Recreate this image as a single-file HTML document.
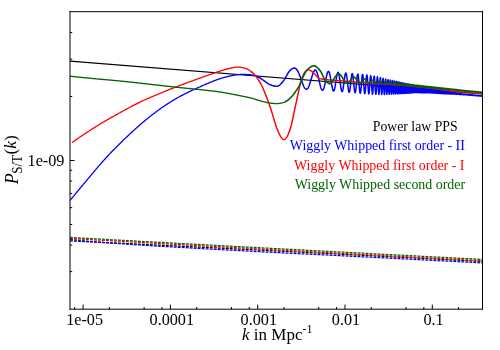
<!DOCTYPE html>
<html><head><meta charset="utf-8"><style>
html,body{margin:0;padding:0;background:#fff;}
body{width:500px;height:350px;overflow:hidden;font-family:"Liberation Serif",serif;}
svg{display:block}
text{font-family:"Liberation Serif",serif;}
</style></head><body>
<svg style="will-change:transform;filter:opacity(1)" width="500" height="350" viewBox="0 0 500 350">
<rect width="500" height="350" fill="#fff"/>
<defs><clipPath id="c"><rect x="70.00" y="11.70" width="412.50" height="297.50"/></clipPath></defs>
<g clip-path="url(#c)" fill="none" stroke-linejoin="round">
<path d="M70 61 L482.5 94" stroke="#000" stroke-width="1.25"/>
<path d="M70.00 200.40 L70.50 199.80 L71.00 199.20 L71.50 198.60 L72.00 198.00 L72.50 197.40 L73.00 196.80 L73.50 196.20 L74.00 195.60 L74.50 195.00 L75.00 194.40 L75.50 193.80 L76.00 193.20 L76.50 192.60 L77.00 192.00 L77.50 191.40 L78.00 190.80 L78.50 190.21 L79.00 189.61 L79.50 189.00 L80.00 188.40 L80.50 187.80 L81.00 187.20 L81.50 186.60 L82.00 186.00 L82.50 185.40 L83.00 184.80 L83.50 184.20 L84.00 183.60 L84.50 183.00 L85.00 182.40 L85.50 181.80 L86.00 181.20 L86.50 180.60 L87.00 180.00 L87.50 179.40 L88.00 178.80 L88.50 178.20 L89.00 177.60 L89.50 177.00 L90.00 176.40 L90.50 175.80 L91.00 175.20 L91.50 174.61 L92.00 174.01 L92.50 173.41 L93.00 172.82 L93.50 172.23 L94.00 171.63 L94.50 171.04 L95.00 170.45 L95.50 169.86 L96.00 169.28 L96.50 168.69 L97.00 168.11 L97.50 167.52 L98.00 166.94 L98.50 166.36 L99.00 165.78 L99.50 165.21 L100.00 164.63 L100.50 164.06 L101.00 163.49 L101.50 162.92 L102.00 162.35 L102.50 161.79 L103.00 161.23 L103.50 160.67 L104.00 160.11 L104.50 159.55 L105.00 159.00 L105.50 158.45 L106.00 157.90 L106.50 157.36 L107.00 156.81 L107.50 156.27 L108.00 155.74 L108.50 155.20 L109.00 154.67 L109.50 154.14 L110.00 153.61 L110.50 153.08 L111.00 152.56 L111.50 152.03 L112.00 151.51 L112.50 150.99 L113.00 150.48 L113.50 149.96 L114.00 149.45 L114.50 148.94 L115.00 148.43 L115.50 147.93 L116.00 147.42 L116.50 146.92 L117.00 146.42 L117.50 145.92 L118.00 145.42 L118.50 144.92 L119.00 144.43 L119.50 143.93 L120.00 143.44 L120.50 142.95 L121.00 142.46 L121.50 141.98 L122.00 141.49 L122.50 141.00 L123.00 140.52 L123.50 140.04 L124.00 139.56 L124.50 139.08 L125.00 138.60 L125.50 138.12 L126.00 137.65 L126.50 137.17 L127.00 136.70 L127.50 136.22 L128.00 135.75 L128.50 135.28 L129.00 134.81 L129.50 134.35 L130.00 133.88 L130.50 133.41 L131.00 132.95 L131.50 132.49 L132.00 132.03 L132.50 131.57 L133.00 131.11 L133.50 130.65 L134.00 130.20 L134.50 129.74 L135.00 129.29 L135.50 128.84 L136.00 128.39 L136.50 127.94 L137.00 127.50 L137.50 127.05 L138.00 126.61 L138.50 126.17 L139.00 125.73 L139.50 125.29 L140.00 124.86 L140.50 124.42 L141.00 123.99 L141.50 123.56 L142.00 123.13 L142.50 122.71 L143.00 122.28 L143.50 121.86 L144.00 121.44 L144.50 121.02 L145.00 120.60 L145.50 120.18 L146.00 119.77 L146.50 119.36 L147.00 118.95 L147.50 118.54 L148.00 118.14 L148.50 117.73 L149.00 117.33 L149.50 116.93 L150.00 116.54 L150.50 116.14 L151.00 115.75 L151.50 115.35 L152.00 114.96 L152.50 114.58 L153.00 114.19 L153.50 113.81 L154.00 113.43 L154.50 113.05 L155.00 112.67 L155.50 112.29 L156.00 111.92 L156.50 111.55 L157.00 111.18 L157.50 110.81 L158.00 110.44 L158.50 110.08 L159.00 109.72 L159.50 109.36 L160.00 109.00 L160.50 108.64 L161.00 108.29 L161.50 107.94 L162.00 107.59 L162.50 107.24 L163.00 106.89 L163.50 106.55 L164.00 106.21 L164.50 105.87 L165.00 105.53 L165.50 105.20 L166.00 104.86 L166.50 104.53 L167.00 104.20 L167.50 103.88 L168.00 103.55 L168.50 103.23 L169.00 102.91 L169.50 102.59 L170.00 102.27 L170.50 101.96 L171.00 101.64 L171.50 101.33 L172.00 101.03 L172.50 100.72 L173.00 100.42 L173.50 100.12 L174.00 99.82 L174.50 99.52 L175.00 99.22 L175.50 98.93 L176.00 98.64 L176.50 98.35 L177.00 98.07 L177.50 97.78 L178.00 97.50 L178.50 97.22 L179.00 96.95 L179.50 96.67 L180.00 96.40 L180.50 96.13 L181.00 95.86 L181.50 95.60 L182.00 95.33 L182.50 95.07 L183.00 94.81 L183.50 94.55 L184.00 94.30 L184.50 94.05 L185.00 93.79 L185.50 93.54 L186.00 93.29 L186.50 93.05 L187.00 92.80 L187.50 92.56 L188.00 92.32 L188.50 92.08 L189.00 91.84 L189.50 91.60 L190.00 91.36 L190.50 91.13 L191.00 90.89 L191.50 90.66 L192.00 90.42 L192.50 90.19 L193.00 89.96 L193.50 89.73 L194.00 89.50 L194.50 89.28 L195.00 89.05 L195.50 88.82 L196.00 88.60 L196.50 88.37 L197.00 88.14 L197.50 87.92 L198.00 87.70 L198.50 87.47 L199.00 87.25 L199.50 87.02 L200.00 86.80 L200.50 86.58 L201.00 86.35 L201.50 86.13 L202.00 85.91 L202.50 85.69 L203.00 85.46 L203.50 85.24 L204.00 85.02 L204.50 84.80 L205.00 84.58 L205.50 84.36 L206.00 84.15 L206.50 83.93 L207.00 83.71 L207.50 83.50 L208.00 83.29 L208.50 83.07 L209.00 82.86 L209.50 82.65 L210.00 82.45 L210.50 82.24 L211.00 82.03 L211.50 81.83 L212.00 81.63 L212.50 81.43 L213.00 81.23 L213.50 81.04 L214.00 80.84 L214.50 80.65 L215.00 80.46 L215.50 80.27 L216.00 80.09 L216.50 79.91 L217.00 79.73 L217.50 79.55 L218.00 79.37 L218.50 79.20 L219.00 79.03 L219.50 78.86 L220.00 78.70 L220.50 78.54 L221.00 78.38 L221.50 78.23 L222.00 78.07 L222.50 77.92 L223.00 77.78 L223.50 77.63 L224.00 77.49 L224.50 77.35 L225.00 77.22 L225.50 77.08 L226.00 76.95 L226.50 76.82 L227.00 76.70 L227.50 76.58 L228.00 76.46 L228.50 76.34 L229.00 76.22 L229.50 76.11 L230.00 76.00 L230.50 75.89 L231.00 75.79 L231.50 75.68 L232.00 75.58 L232.50 75.49 L233.00 75.39 L233.50 75.30 L234.00 75.22 L234.50 75.13 L235.00 75.05 L235.50 74.98 L236.00 74.91 L236.50 74.84 L237.00 74.78 L237.50 74.72 L238.00 74.66 L238.50 74.62 L239.00 74.57 L239.50 74.53 L240.00 74.50 L240.50 74.47 L241.00 74.45 L241.50 74.43 L242.00 74.42 L242.50 74.41 L243.00 74.41 L243.50 74.41 L244.00 74.42 L244.50 74.43 L245.00 74.45 L245.50 74.47 L246.00 74.49 L246.50 74.52 L247.00 74.55 L247.50 74.58 L248.00 74.62 L248.50 74.66 L249.00 74.70 L249.50 74.75 L250.00 74.80 L250.50 74.85 L251.00 74.91 L251.50 74.97 L252.00 75.04 L252.50 75.12 L253.00 75.20 L253.50 75.30 L254.00 75.41 L254.50 75.53 L255.00 75.67 L255.50 75.83 L256.00 76.00 L256.50 76.19 L257.00 76.40 L257.50 76.63 L258.00 76.87" stroke="#0000ff" stroke-width="1.3"/>
<path d="M257.00 76.40 L257.50 76.63 L258.00 76.87 L258.50 77.13 L259.00 77.41 L259.50 77.69 L260.00 77.99 L260.50 78.30 L261.00 78.63 L261.50 78.96 L262.00 79.30 L262.50 79.65 L263.00 80.00 L263.50 80.36 L264.00 80.72 L264.50 81.09 L265.00 81.45 L265.50 81.82 L266.00 82.17 L266.50 82.52 L267.00 82.86 L267.50 83.19 L268.00 83.50 L268.50 83.80 L269.00 84.08 L269.50 84.34 L270.00 84.59 L270.50 84.81 L271.00 85.03 L271.50 85.22 L272.00 85.40 L272.50 85.56 L273.00 85.70 L273.50 85.82 L274.00 85.93 L274.50 86.02 L275.00 86.10 L275.50 86.16 L276.00 86.20 L276.50 86.23 L277.00 86.22 L277.50 86.18 L278.00 86.07 L278.50 85.88 L279.00 85.60 L279.50 85.22 L280.00 84.76 L280.50 84.24 L281.00 83.70 L281.50 83.16 L282.00 82.60 L282.50 82.03 L283.00 81.44 L283.50 80.81 L284.00 80.13 L284.50 79.40 L285.00 78.60 L285.50 77.73 L286.00 76.82 L286.50 75.88 L287.00 74.95 L287.50 74.05 L288.00 73.20 L288.50 72.43 L289.00 71.73 L289.50 71.11 L290.00 70.55 L290.50 70.05 L291.00 69.60 L291.50 69.20 L292.00 68.86 L292.50 68.57 L293.00 68.33 L293.50 68.16 L294.00 68.05 L294.50 68.00 L294.60 68.08 L294.90 68.13 L295.20 68.23 L295.50 68.38 L295.80 68.58 L296.10 68.84 L296.40 69.14 L296.70 69.49 L297.00 69.89 L297.30 70.34 L297.60 70.84 L297.90 71.38 L298.20 71.97 L298.50 72.60 L298.80 73.27 L299.10 73.97 L299.40 74.71 L299.70 75.47 L300.00 76.26 L300.30 77.08 L300.60 77.90 L300.90 78.74 L301.20 79.59 L301.50 80.43 L301.80 81.27 L302.10 82.10 L302.40 82.92 L302.70 83.71 L303.00 84.47 L303.30 85.19 L303.60 85.88 L303.90 86.52 L304.20 87.10 L304.50 87.62 L304.80 88.09 L305.10 88.48 L305.40 88.79 L305.70 89.03 L306.00 89.19 L306.30 89.26 L306.60 89.24 L306.90 89.14 L307.20 88.94 L307.50 88.66 L307.80 88.29 L308.10 87.82 L308.40 87.28 L308.70 86.65 L309.00 85.95 L309.30 85.18 L309.60 84.34 L309.90 83.44 L310.20 82.50 L310.50 81.52 L310.80 80.51 L311.10 79.49 L311.40 78.45 L311.70 77.43 L312.00 76.42 L312.30 75.45 L312.60 74.51 L312.90 73.64 L313.20 72.83 L313.50 72.11 L313.80 71.48 L314.10 70.95 L314.40 70.54 L314.70 70.25 L315.00 70.09 L315.30 70.07 L315.60 70.18 L315.90 70.44 L316.20 70.84 L316.50 71.38 L316.80 72.06 L317.10 72.87 L317.40 73.79 L317.70 74.83 L318.00 75.95 L318.30 77.16 L318.60 78.42 L318.90 79.73 L319.20 81.05 L319.50 82.37 L319.80 83.66 L320.10 84.90 L320.40 86.06 L320.70 87.13 L321.00 88.08 L321.30 88.88 L321.60 89.53 L321.90 90.00 L322.20 90.28 L322.50 90.36 L322.80 90.24 L323.10 89.91 L323.40 89.38 L323.70 88.65 L324.00 87.74 L324.30 86.66 L324.60 85.44 L324.90 84.10 L325.20 82.67 L325.50 81.18 L325.80 79.68 L326.10 78.19 L326.40 76.76 L326.70 75.42 L327.00 74.22 L327.30 73.19 L327.60 72.36 L327.90 71.76 L328.20 71.41 L328.50 71.34 L328.80 71.55 L329.10 72.06 L329.40 72.84 L329.70 73.90 L330.00 75.18 L330.30 76.68 L330.60 78.33 L330.90 80.09 L331.20 81.90 L331.50 83.70 L331.80 85.42 L332.10 87.02 L332.40 88.42 L332.70 89.57 L333.00 90.43 L333.30 90.94 L333.60 91.10 L333.90 90.88 L334.20 90.28 L334.50 89.33 L334.80 88.05 L335.10 86.49 L335.40 84.71 L335.70 82.78 L336.00 80.80 L336.30 78.83 L336.60 76.99 L336.90 75.35 L337.20 74.00 L337.50 73.00 L337.80 72.43 L338.10 72.31 L338.40 72.67 L338.70 73.50 L339.00 74.77 L339.30 76.41 L339.60 78.37 L339.90 80.53 L340.20 82.75 L340.50 84.93 L340.80 86.97 L341.10 88.76 L341.40 90.19 L341.70 91.18 L342.00 91.65 L342.30 91.57 L342.60 90.93 L342.90 89.76 L343.20 88.13 L343.50 86.11 L343.80 83.83 L344.10 81.45 L344.40 79.10 L344.70 76.95 L345.00 75.15 L345.30 73.83 L345.60 73.11 L345.90 73.04 L346.20 73.65 L346.50 74.92 L346.80 76.76 L347.10 79.05 L347.40 81.63 L347.70 84.32 L348.00 86.89 L348.30 89.14 L348.60 90.90 L348.90 91.99 L349.20 92.31 L349.50 91.82 L349.80 90.55 L350.10 88.59 L350.40 86.11 L350.70 83.31 L351.00 80.45 L351.30 77.81 L351.60 75.64 L351.90 74.16 L352.20 73.55 L352.50 73.87 L352.80 75.14 L353.10 77.23 L353.40 79.96 L353.70 83.05 L354.00 86.18 L354.30 89.01 L354.60 91.21 L354.90 92.54 L355.20 92.80 L355.50 91.97 L355.80 90.10 L356.10 87.40 L356.40 84.20 L356.70 80.87 L357.00 77.84 L357.30 75.51 L357.60 74.20 L357.90 74.12 L358.20 75.30 L358.50 77.63 L358.80 80.80 L359.10 84.39 L359.40 87.90 L359.70 90.83 L360.00 92.73 L360.30 93.29 L360.60 92.40 L360.90 90.17 L361.20 86.93 L361.50 83.16 L361.80 79.48 L362.10 76.50 L362.40 74.73 L362.70 74.52 L363.00 75.93 L363.30 78.79 L363.60 82.58 L363.90 86.67 L364.20 90.29 L364.50 92.79 L364.80 93.66 L365.10 92.71 L365.40 90.10 L365.70 86.31 L366.00 82.13 L366.29 78.40 L366.59 75.86 L366.88 75.02 L367.17 76.06 L367.45 78.76 L367.74 82.59 L368.02 86.79 L368.30 90.53 L368.58 93.07 L368.85 93.92 L369.13 92.90 L369.40 90.25 L369.67 86.49 L369.94 82.38 L370.20 78.75 L370.47 76.33 L370.73 75.60 L370.99 76.71 L371.25 79.43 L371.51 83.23 L371.76 87.35 L372.02 90.98 L372.27 93.41 L372.52 94.14 L372.77 93.06 L373.01 90.38 L373.26 86.65 L373.50 82.62 L373.75 79.09 L373.99 76.77 L374.23 76.13 L374.46 77.30 L374.70 80.03 L374.94 83.80 L375.17 87.86 L375.40 91.39 L375.63 93.70 L375.86 94.35 L376.09 93.20 L376.31 90.51 L376.54 86.82 L376.76 82.88 L376.99 79.49 L377.21 77.31 L377.43 76.79 L377.65 78.02 L377.86 80.74 L378.08 84.43 L378.29 88.35 L378.51 91.71 L378.72 93.88 L378.93 94.42 L379.14 93.25 L379.35 90.62 L379.56 87.05 L379.76 83.29 L379.97 80.07 L380.17 78.03 L380.38 77.59 L380.58 78.83 L380.78 81.49 L380.98 85.05 L381.18 88.80 L381.38 92.00 L381.57 94.02 L381.77 94.48 L381.96 93.30 L382.16 90.72 L382.35 87.28 L382.54 83.67 L382.73 80.61 L382.92 78.71 L383.11 78.34 L383.30 79.58 L383.49 82.18 L383.68 85.62 L383.86 89.21 L384.04 92.25 L384.23 94.15 L384.41 94.53 L384.59 93.34 L384.77 90.83 L384.95 87.51 L385.13 84.03 L385.31 81.11 L385.49 79.32 L385.67 79.01 L385.84 80.24 L386.02 82.76 L386.19 86.06 L386.36 89.49 L386.54 92.36 L386.71 94.12 L386.88 94.43 L387.05 93.23 L387.22 90.78 L387.39 87.57 L387.56 84.25 L387.72 81.48 L387.89 79.81 L388.06 79.56 L388.22 80.78 L388.39 83.22 L388.55 86.40 L388.71 89.67 L388.87 92.40 L389.04 94.04 L389.20 94.29 L389.36 93.10 L389.52 90.73 L389.68 87.64 L389.83 84.47 L389.99 81.84 L390.15 80.27 L390.30 80.08 L390.46 81.29 L390.62 83.65 L390.77 86.70 L390.92 89.83 L391.08 92.42 L391.23 93.96 L391.38 94.16 L391.53 92.98 L391.68 90.68 L391.83 87.71 L391.98 84.68 L392.13 82.18 L392.28 80.71 L392.43 80.56 L392.57 81.76 L392.72 84.05 L392.87 86.99 L393.01 89.98 L393.16 92.44 L393.30 93.88 L393.44 94.04 L393.59 92.88 L393.73 90.64 L393.87 87.79 L394.01 84.88 L394.16 82.51 L394.30 81.13 L394.44 81.03 L394.58 82.20 L394.71 84.43 L394.85 87.25 L394.99 90.11 L395.13 92.45 L395.27 93.81 L395.40 93.92 L395.54 92.78 L395.67 90.61 L395.81 87.87 L395.94 85.09 L396.08 82.83 L396.21 81.54 L396.34 81.46 L396.48 82.62 L396.61 84.77 L396.74 87.49 L396.87 90.23 L397.00 92.46 L397.13 93.73 L397.26 93.81 L397.39 92.68 L397.52 90.59 L397.65 87.95 L397.78 85.28 L397.91 83.13 L398.03 81.92 L398.16 81.88 L398.29 83.02 L398.41 85.10 L398.54 87.72 L398.66 90.34 L398.79 92.46 L398.91 93.66 L399.04 93.70 L399.16 92.60 L399.28 90.57 L399.41 88.03 L399.53 85.48 L399.65 83.43 L399.77 82.29 L399.89 82.28 L400.02 83.39 L400.14 85.41 L400.26 87.93 L400.38 90.44 L400.49 92.46 L400.61 93.58 L400.73 93.60 L400.85 92.52 L400.97 90.56 L401.09 88.11 L401.20 85.67 L401.32 83.72 L401.44 82.65 L401.55 82.66 L401.67 83.75 L401.78 85.70 L401.90 88.12 L402.01 90.53 L402.13 92.45 L402.24 93.51 L402.35 93.51 L402.47 92.45 L402.58 90.55 L402.69 88.19 L402.81 85.85 L402.92 84.00 L403.03 82.99 L403.14 83.02 L403.25 84.09 L403.36 85.98 L403.47 88.31 L403.58 90.61 L403.69 92.45 L403.80 93.44 L403.91 93.42 L404.02 92.38 L404.13 90.54 L404.23 88.28 L404.34 86.04 L404.45 84.27 L404.56 83.32 L404.66 83.37 L404.77 84.41 L404.88 86.24 L404.98 88.48 L405.09 90.69 L405.19 92.43 L405.30 93.37 L405.40 93.32 L405.51 92.30 L405.61 90.53 L405.72 88.35 L405.82 86.21 L405.92 84.53 L406.03 83.64 L406.13 83.71 L406.23 84.72 L406.33 86.48 L406.44 88.62 L406.54 90.72 L406.64 92.37 L406.74 93.25 L406.84 93.18 L406.94 92.20 L407.04 90.49 L407.14 88.41 L407.24 86.38 L407.34 84.78 L407.44 83.95 L407.54 84.04 L407.64 85.02 L407.74 86.70 L407.83 88.75 L407.93 90.75 L408.03 92.32 L408.13 93.14 L408.23 93.06 L408.32 92.10 L408.42 90.47 L408.52 88.48 L408.61 86.54 L408.71 85.03 L408.80 84.25 L408.90 84.35 L408.99 85.30 L409.09 86.92 L409.18 88.87 L409.28 90.78 L409.37 92.26 L409.47 93.03 L409.56 92.93 L409.65 92.01 L409.75 90.44 L409.84 88.55 L409.93 86.70 L410.03 85.27 L410.12 84.55 L410.21 84.65 L410.30 85.58 L410.40 87.12 L410.49 88.99 L410.58 90.80 L410.67 92.20 L410.76 92.92 L410.85 92.82 L410.94 91.92 L411.03 90.42 L411.12 88.61 L411.21 86.86 L411.30 85.51 L411.39 84.83 L411.48 84.95 L411.57 85.84 L411.66 87.32 L411.75 89.10 L411.84 90.82 L411.92 92.14 L412.01 92.81 L412.10 92.70 L412.19 91.84 L412.27 90.41 L412.36 88.68 L412.45 87.02 L412.53 85.74 L412.62 85.10 L412.71 85.23 L412.79 86.09 L412.88 87.50 L412.97 89.20 L413.05 90.83 L413.14 92.08 L413.22 92.71 L413.31 92.60 L413.39 91.77 L413.48 90.39 L413.56 88.75 L413.65 87.17 L413.73 85.97 L413.81 85.37 L413.90 85.50 L413.98 86.33 L414.06 87.68 L414.15 89.29 L414.23 90.84 L414.31 92.03 L414.40 92.61 L414.48 92.49 L414.56 91.69 L414.64 90.38 L414.72 88.82 L414.81 87.32 L414.89 86.19 L414.97 85.63 L415.05 85.77 L415.13 86.56 L415.21 87.86 L415.29 89.40 L415.37 90.88 L415.45 92.01 L415.53 92.57 L415.61 92.45 L415.69 91.68 L415.77 90.42 L415.85 88.92 L415.93 87.48 L416.01 86.38 L416.09 85.85 L416.17 85.99 L416.25 86.77 L416.33 88.03 L416.40 89.53 L416.48 90.97 L416.56 92.06 L416.64 92.59 L416.72 92.46 L416.79 91.71 L416.87 90.48 L416.95 89.02 L417.02 87.63 L417.10 86.57 L417.18 86.07 L417.25 86.21 L417.33 86.97 L417.41 88.20 L417.48 89.66 L417.56 91.05 L417.64 92.10 L417.71 92.61 L417.79 92.48 L417.86 91.74 L417.94 90.54 L418.01 89.12 L418.09 87.77 L418.16 86.76 L418.24 86.27 L418.31 86.42 L418.39 87.17 L418.46 88.37 L418.53 89.78 L418.61 91.13 L418.68 92.14 L418.76 92.62 L418.83 92.49 L418.90 91.76 L418.98 90.60 L419.05 89.22 L419.12 87.92 L419.19 86.94 L419.27 86.48 L419.34 86.63 L419.41 87.36 L419.48 88.53 L419.56 89.90 L419.63 91.20 L419.70 92.18 L419.77 92.64 L419.84 92.50 L419.91 91.79 L419.99 90.66 L420.06 89.32 L420.13 88.06 L420.20 87.11 L420.27 86.67 L420.34 86.83 L420.41 87.55 L420.48 88.68 L420.55 90.01 L420.62 91.27 L420.69 92.22 L420.76 92.66 L420.83 92.51 L420.90 91.82 L420.97 90.71 L421.04 89.42 L421.11 88.20 L421.18 87.28 L421.25 86.87 L421.31 87.03 L421.38 87.73 L421.45 88.83 L421.52 90.12 L421.59 91.34 L421.66 92.25 L421.72 92.67 L421.79 92.53 L421.86 91.85 L421.93 90.77 L422.00 89.52 L422.06 88.33 L422.13 87.45 L422.20 87.06 L422.26 87.22 L422.33 87.90 L422.40 88.98 L422.47 90.23 L422.53 91.41 L422.60 92.29 L422.66 92.69 L422.73 92.54 L422.80 91.87 L422.86 90.83 L422.93 89.61 L422.99 88.46 L423.06 87.62 L423.13 87.24 L423.19 87.40 L423.26 88.07 L423.32 89.12 L423.39 90.33 L423.45 91.47 L423.52 92.32 L423.58 92.70 L423.65 92.55 L423.71 91.90 L423.78 90.88 L423.84 89.70 L423.90 88.59 L423.97 87.78 L424.03 87.42 L424.10 87.58 L424.16 88.24 L424.22 89.26 L424.29 90.43 L424.35 91.54 L424.41 92.35 L424.48 92.72 L424.54 92.56 L424.60 91.93 L424.67 90.94 L424.73 89.80 L424.79 88.72 L424.86 87.94 L424.92 87.59 L424.98 87.76 L425.04 88.40 L425.10 89.39 L425.17 90.53 L425.23 91.60 L425.29 92.38 L425.35 92.73 L425.41 92.58 L425.48 91.96 L425.54 91.00 L425.60 89.89 L425.66 88.85 L425.72 88.09 L425.78 87.77 L425.84 87.93 L425.90 88.56 L425.97 89.52 L426.03 90.62 L426.09 91.65 L426.15 92.41 L426.21 92.74 L426.27 92.59 L426.33 91.98 L426.39 91.05 L426.45 89.98 L426.51 88.97 L426.57 88.25 L426.63 87.93 L426.69 88.10 L426.75 88.71 L426.81 89.64 L426.87 90.71 L426.93 91.71 L426.99 92.44 L427.04 92.75 L427.10 92.60 L427.16 92.01 L427.22 91.10 L427.28 90.06 L427.34 89.10 L427.40 88.39 L427.46 88.10 L427.51 88.26 L427.57 88.86 L427.63 89.76 L427.69 90.80 L427.75 91.76 L427.81 92.46 L427.86 92.77 L427.92 92.61 L427.98 92.04 L428.04 91.16 L428.09 90.15 L428.15 89.22 L428.21 88.54 L428.27 88.26 L428.32 88.42 L428.38 89.00 L428.44 89.88 L428.49 90.89 L428.55 91.82 L428.61 92.49 L428.66 92.78 L428.72 92.62 L428.78 92.06 L428.83 91.21 L428.89 90.24 L428.95 89.33 L429.00 88.69 L429.06 88.42 L429.11 88.58 L429.17 89.15 L429.23 90.00 L429.28 90.97 L429.34 91.87 L429.39 92.51 L429.45 92.79 L429.50 92.64 L429.56 92.09 L429.61 91.26 L429.67 90.32 L429.72 89.45 L429.78 88.83 L429.83 88.57 L429.89 88.73 L429.94 89.28 L430.00 90.11 L430.05 91.05 L430.11 91.92 L430.16 92.55 L430.22 92.81 L430.27 92.66 L430.33 92.13 L430.38 91.32 L430.43 90.41 L430.49 89.56 L430.54 88.95 L430.60 88.70 L430.65 88.86 L430.70 89.40 L430.76 90.22 L430.81 91.14 L430.86 91.99 L430.92 92.60 L430.97 92.86 L431.02 92.70 L431.08 92.18 L431.13 91.39 L431.18 90.49 L431.24 89.66 L431.29 89.07 L431.34 88.83 L431.39 88.99 L431.45 89.52 L431.50 90.32 L431.55 91.22 L431.60 92.06 L431.66 92.65 L431.71 92.90 L431.76 92.75 L431.81 92.23 L431.87 91.45 L431.92 90.57 L431.97 89.76 L432.02 89.18 L432.07 88.95 L432.12 89.11 L432.18 89.64 L432.23 90.42 L432.28 91.31 L432.33 92.12 L432.38 92.71 L432.43 92.94 L432.48 92.79 L432.54 92.28 L432.59 91.52 L432.64 90.65 L432.69 89.85 L432.74 89.29 L432.79 89.07 L432.84 89.23 L432.89 89.75 L432.94 90.52 L432.99 91.39 L433.04 92.19 L433.09 92.76 L433.14 92.99 L433.19 92.83 L433.24 92.33 L433.29 91.58 L433.34 90.73 L433.39 89.95 L433.44 89.40 L433.49 89.18 L433.54 89.35 L433.59 89.86 L433.64 90.62 L433.69 91.47 L433.74 92.25 L433.79 92.81 L433.84 93.03 L433.89 92.88 L433.94 92.38 L433.99 91.64 L434.04 90.81 L434.09 90.04 L434.14 89.51 L434.19 89.30 L434.23 89.46 L434.28 89.97 L434.33 90.71 L434.38 91.55 L434.43 92.31 L434.48 92.86 L434.53 93.07 L434.58 92.92 L434.62 92.43 L434.67 91.70 L434.72 90.88 L434.77 90.14 L434.82 89.61 L434.86 89.41 L434.91 89.58 L434.96 90.07 L435.01 90.80 L435.06 91.63 L435.10 92.37 L435.15 92.90 L435.20 93.11 L435.25 92.96 L435.30 92.47 L435.34 91.76 L435.39 90.96 L435.44 90.23 L435.48 89.72 L435.53 89.52 L435.58 89.69 L435.63 90.18 L435.67 90.90 L435.72 91.70 L435.77 92.43 L435.81 92.95 L435.86 93.15 L435.91 93.00 L435.95 92.52 L436.00 91.82 L436.05 91.03 L436.09 90.32 L436.14 89.82 L436.19 89.63 L436.23 89.80 L436.28 90.28 L436.33 90.99 L436.37 91.77 L436.42 92.49 L436.47 93.00 L436.51 93.19 L436.56 93.04 L436.60 92.57 L436.65 91.88 L436.69 91.11 L436.74 90.41 L436.79 89.92 L436.83 89.74 L436.88 89.90 L436.92 90.38 L436.97 91.07 L437.01 91.85 L437.06 92.55 L437.10 93.04 L437.15 93.23 L437.20 93.07 L437.24 92.61 L437.29 91.94 L437.33 91.18 L437.38 90.49 L437.42 90.02 L437.47 89.84 L437.51 90.01 L437.56 90.48 L437.60 91.16 L437.64 91.92 L437.69 92.61 L437.73 93.09 L437.78 93.27 L437.82 93.11 L437.87 92.66 L437.91 91.99 L437.96 91.25 L438.00 90.58 L438.04 90.12 L438.09 89.95 L438.13 90.11 L438.18 90.57 L438.22 91.24 L438.26 91.99 L438.31 92.66 L438.35 93.13 L438.40 93.30 L438.44 93.15 L438.48 92.70 L438.53 92.05 L438.57 91.32 L438.61 90.67 L438.66 90.21 L438.70 90.05 L438.75 90.21 L438.79 90.67 L438.83 91.33 L438.88 92.06 L438.92 92.71 L438.96 93.17 L439.00 93.34 L439.05 93.19 L439.09 92.75 L439.13 92.10 L439.18 91.39 L439.22 90.75 L439.26 90.31 L439.31 90.15 L439.35 90.31 L439.39 90.76 L439.43 91.41 L439.48 92.12 L439.52 92.77 L439.56 93.21 L439.60 93.38 L439.65 93.22 L439.69 92.79 L439.73 92.16 L439.77 91.46 L439.81 90.83 L439.86 90.40 L439.90 90.25 L439.94 90.41 L439.98 90.85 L440.03 91.49 L440.07 92.19 L440.11 92.82 L440.15 93.25 L440.19 93.41 L440.23 93.26 L440.28 92.83 L440.32 92.21 L440.36 91.53 L440.40 90.91 L440.44 90.49 L440.48 90.35 L440.53 90.51 L440.57 90.94 L440.61 91.56 L440.65 92.25 L440.69 92.87 L440.73 93.29 L440.77 93.45 L440.81 93.30 L440.85 92.87 L440.90 92.27 L440.94 91.60 L440.98 90.99 L441.02 90.58 L441.06 90.44 L441.10 90.60 L441.14 91.03 L441.18 91.64 L441.22 92.31 L441.26 92.92 L441.30 93.33 L441.34 93.48 L441.38 93.33 L441.43 92.92 L441.47 92.32 L441.51 91.66 L441.55 91.07 L441.59 90.67 L441.63 90.54 L441.67 90.70 L441.71 91.12 L441.75 91.72 L441.79 92.38 L441.83 92.97 L441.87 93.37 L441.91 93.51 L441.95 93.37 L441.99 92.96 L442.03 92.37 L442.07 91.73 L442.11 91.15 L442.15 90.76 L442.19 90.63 L442.23 90.79 L442.26 91.20 L442.30 91.79 L442.34 92.44 L442.38 93.02 L442.42 93.41 L442.46 93.55 L442.50 93.40 L442.54 93.00 L442.58 92.42 L442.62 91.79 L442.66 91.23 L442.70 90.85 L442.74 90.72 L442.78 90.88 L442.81 91.29 L442.85 91.86 L442.89 92.50 L442.93 93.06 L442.97 93.45 L443.01 93.58 L443.05 93.43 L443.09 93.04 L443.12 92.48 L443.16 91.86 L443.20 91.31 L443.24 90.93 L443.28 90.81 L443.32 90.97 L443.36 91.37 L443.39 91.94 L443.43 92.56 L443.47 93.11 L443.51 93.49 L443.55 93.61 L443.59 93.47 L443.62 93.08 L443.66 92.53 L443.70 91.92 L443.74 91.38 L443.78 91.02 L443.81 90.90 L443.85 91.06 L443.89 91.45 L443.93 92.01 L443.97 92.61 L444.00 93.15 L444.04 93.52 L444.08 93.64 L444.12 93.50 L444.15 93.12 L444.19 92.58 L444.23 91.98 L444.27 91.46 L444.30 91.10 L444.34 90.99 L444.38 91.14 L444.42 91.53 L444.45 92.07 L444.49 92.67 L444.53 93.20 L444.57 93.56 L444.60 93.68 L444.64 93.53 L444.68 93.16 L444.71 92.63 L444.75 92.05 L444.79 91.53 L444.83 91.19 L444.86 91.08 L444.90 91.23 L444.94 91.61 L444.97 92.14 L445.01 92.73 L445.05 93.24 L445.08 93.59 L445.12 93.70 L445.16 93.56 L445.19 93.19 L445.23 92.67 L445.27 92.11 L445.30 91.61 L445.34 91.27 L445.38 91.17 L445.41 91.32 L445.45 91.69 L445.48 92.21 L445.52 92.78 L445.56 93.28 L445.59 93.62 L445.63 93.72 L445.67 93.58 L445.70 93.23 L445.74 92.72 L445.77 92.17 L445.81 91.68 L445.85 91.36 L445.88 91.26 L445.92 91.41 L445.95 91.77 L445.99 92.28 L446.03 92.83 L446.06 93.31 L446.10 93.64 L446.13 93.74 L446.17 93.61 L446.20 93.26 L446.24 92.76 L446.28 92.23 L446.31 91.76 L446.35 91.44 L446.38 91.35 L446.42 91.49 L446.45 91.85 L446.49 92.34 L446.52 92.88 L446.56 93.35 L446.59 93.66 L446.63 93.76 L446.66 93.63 L446.70 93.29 L446.74 92.81 L446.77 92.29 L446.81 91.83 L446.84 91.53 L446.88 91.44 L446.91 91.58 L446.95 91.93 L446.98 92.40 L447.02 92.92 L447.05 93.38 L447.09 93.69 L447.12 93.78 L447.15 93.65 L447.19 93.32 L447.22 92.85 L447.26 92.35 L447.29 91.91 L447.33 91.61 L447.36 91.53 L447.40 91.67 L447.43 92.00 L447.47 92.47 L447.50 92.97 L447.53 93.42 L447.57 93.71 L447.60 93.80 L447.64 93.67 L447.67 93.35 L447.71 92.90 L447.74 92.41 L447.78 91.98 L447.81 91.69 L447.84 91.61 L447.88 91.75 L447.91 92.08 L447.95 92.53 L447.98 93.02 L448.01 93.45 L448.05 93.74 L448.08 93.82 L448.12 93.69 L448.15 93.38 L448.18 92.94 L448.22 92.47 L448.25 92.05 L448.28 91.78 L448.32 91.70 L448.35 91.83 L448.39 92.15 L448.42 92.59 L448.45 93.07 L448.49 93.48 L448.52 93.76 L448.55 93.84 L448.59 93.72 L448.62 93.41 L448.65 92.98 L448.69 92.52 L448.72 92.12 L448.75 91.86 L448.79 91.78 L448.82 91.91 L448.85 92.22 L448.89 92.65 L448.92 93.11 L448.95 93.51 L448.99 93.78 L449.02 93.86 L449.05 93.74 L449.09 93.44 L449.12 93.03 L449.15 92.58 L449.18 92.19 L449.22 91.94 L449.25 91.87 L449.28 91.99 L449.32 92.30 L449.35 92.71 L449.38 93.16 L449.41 93.54 L449.45 93.80 L449.48 93.88 L449.51 93.76 L449.55 93.47 L449.58 93.07 L449.61 92.64 L449.64 92.26 L449.68 92.02 L449.71 91.95 L449.74 92.07 L449.77 92.37 L449.81 92.77 L449.84 93.20 L449.87 93.58 L449.90 93.82 L449.93 93.90 L449.97 93.78 L450.00 93.50 L450.03 93.11 L450.06 92.69 L450.10 92.33 L450.13 92.09 L450.16 92.03 L450.19 92.15 L450.22 92.44 L450.26 92.83 L450.29 93.24 L450.32 93.61 L450.35 93.85 L450.38 93.91 L450.42 93.80 L450.45 93.53 L450.48 93.15 L450.51 92.75 L450.54 92.40 L450.58 92.17 L450.61 92.11 L450.64 92.23 L450.67 92.51 L450.70 92.88 L450.73 93.28 L450.77 93.64 L450.80 93.87 L450.83 93.93 L450.86 93.82 L450.89 93.56 L450.92 93.19 L450.95 92.80 L450.99 92.47 L451.02 92.25 L451.05 92.19 L451.08 92.31 L451.11 92.57 L451.14 92.94 L451.17 93.33 L451.21 93.67 L451.24 93.89 L451.27 93.95 L451.30 93.84 L451.33 93.59 L451.36 93.23 L451.39 92.86 L451.42 92.53 L451.45 92.32 L451.49 92.27 L451.52 92.38 L451.55 92.64 L451.58 92.99 L451.61 93.37 L451.64 93.69 L451.67 93.91 L451.70 93.97 L451.73 93.86 L451.76 93.61 L451.79 93.28 L451.82 92.91 L451.86 92.60 L451.89 92.40 L451.92 92.35 L451.95 92.46 L451.98 92.71 L452.01 93.05 L452.04 93.41 L452.07 93.72 L452.10 93.93 L452.13 93.98 L452.16 93.88 L452.19 93.64 L452.22 93.32 L452.25 92.97 L452.28 92.67 L452.31 92.47 L452.34 92.42 L452.37 92.53 L452.40 92.77 L452.43 93.10 L452.46 93.45 L452.49 93.75 L452.52 93.95 L452.55 94.00 L452.59 93.90 L452.62 93.67 L452.65 93.36 L452.68 93.02 L452.71 92.73 L452.74 92.54 L452.77 92.50 L452.80 92.60 L452.83 92.84 L452.86 93.15 L452.89 93.49 L452.92 93.78 L452.95 93.97 L452.98 94.02 L453.01 93.92 L453.04 93.69 L453.07 93.38 L453.10 93.05 L453.13 92.78 L453.16 92.61 L453.19 92.58 L453.22 92.69 L453.25 92.93 L453.28 93.25 L453.31 93.57 L453.34 93.84 L453.37 94.00 L453.40 94.03 L453.43 93.90 L453.46 93.66 L453.49 93.36 L453.52 93.05 L453.55 92.80 L453.58 92.66 L453.61 92.67 L453.64 92.81 L453.67 93.07 L453.70 93.38 L453.73 93.69 L453.76 93.93 L453.79 94.04 L453.82 94.02 L453.85 93.86 L453.88 93.60 L453.91 93.29 L453.94 93.00 L453.97 92.80 L454.00 92.72 L454.03 92.78 L454.06 92.97 L454.09 93.25 L454.12 93.56 L454.15 93.83 L454.18 94.02 L454.21 94.07 L454.24 93.98 L454.27 93.77 L454.30 93.49 L454.33 93.19 L454.36 92.95 L454.39 92.81 L454.42 92.81 L454.45 92.94 L454.48 93.18 L454.51 93.47 L454.54 93.76 L454.57 93.98 L454.60 94.08 L454.63 94.05 L454.66 93.88 L454.69 93.63 L454.72 93.34 L454.75 93.08 L454.78 92.91 L454.81 92.87 L454.84 92.95 L454.87 93.16 L454.90 93.43 L454.93 93.72 L454.96 93.95 L454.99 94.08 L455.02 94.08 L455.05 93.95 L455.08 93.73 L455.11 93.45 L455.14 93.19 L455.17 93.00 L455.20 92.93 L455.23 92.99 L455.26 93.17 L455.29 93.43 L455.32 93.72 L455.35 93.95 L455.38 94.10 L455.41 94.11 L455.44 94.00 L455.47 93.78 L455.50 93.51 L455.53 93.25 L455.56 93.06 L455.59 92.99 L455.62 93.04 L455.65 93.22 L455.68 93.47 L455.71 93.75 L455.74 93.98 L455.77 94.12 L455.80 94.14 L455.83 94.02 L455.86 93.81 L455.89 93.54 L455.92 93.29 L455.95 93.11 L455.98 93.05 L456.01 93.11 L456.04 93.29 L456.07 93.55 L456.10 93.82 L456.13 94.04 L456.16 94.16 L456.19 94.15 L456.22 94.02 L456.25 93.79 L456.28 93.53 L456.31 93.30 L456.34 93.14 L456.37 93.11 L456.40 93.20 L456.43 93.40 L456.46 93.66 L456.49 93.91 L456.52 94.11 L456.55 94.19 L456.58 94.15 L456.61 93.99 L456.64 93.75 L456.67 93.50 L456.70 93.29 L456.73 93.17 L456.76 93.18 L456.79 93.31 L456.82 93.54 L456.85 93.80 L456.88 94.03 L456.91 94.18 L456.94 94.21 L456.97 94.12 L457.00 93.92 L457.03 93.68 L457.06 93.44 L457.09 93.27 L457.12 93.22 L457.15 93.29 L457.18 93.46 L457.21 93.71 L457.24 93.95 L457.27 94.15 L457.30 94.24 L457.33 94.20 L457.36 94.05 L457.39 93.83 L457.42 93.58 L457.45 93.38 L457.48 93.28 L457.51 93.30 L457.54 93.43 L457.57 93.65 L457.60 93.90 L457.63 94.11 L457.66 94.24 L457.69 94.25 L457.72 94.14 L457.75 93.94 L457.78 93.70 L457.81 93.49 L457.84 93.35 L457.87 93.34 L457.90 93.44 L457.93 93.64 L457.96 93.88 L457.99 94.10 L458.02 94.24 L458.05 94.28 L458.08 94.19 L458.11 94.01 L458.14 93.78 L458.17 93.57 L458.20 93.42 L458.23 93.39 L458.26 93.47 L458.29 93.65 L458.32 93.88 L458.35 94.10 L458.38 94.26 L458.41 94.30 L458.44 94.23 L458.47 94.06 L458.50 93.84 L458.53 93.63 L458.56 93.48 L458.59 93.44 L458.62 93.51 L458.65 93.69 L458.68 93.91 L458.71 94.13 L458.74 94.28 L458.77 94.32 L458.80 94.25 L458.83 94.09 L458.86 93.87 L458.89 93.67 L458.92 93.53 L458.95 93.49 L458.98 93.57 L459.01 93.75 L459.04 93.97 L459.07 94.18 L459.10 94.31 L459.13 94.34 L459.16 94.26 L459.19 94.09 L459.22 93.88 L459.25 93.69 L459.28 93.57 L459.31 93.55 L459.34 93.65 L459.37 93.83 L459.40 94.05 L459.43 94.24 L459.46 94.35 L459.49 94.36 L459.52 94.25 L459.55 94.07 L459.58 93.87 L459.61 93.69 L459.64 93.60 L459.67 93.62 L459.70 93.75 L459.73 93.94 L459.76 94.15 L459.79 94.31 L459.82 94.39 L459.85 94.35 L459.88 94.22 L459.91 94.03 L459.94 93.84 L459.97 93.70 L460.00 93.65 L460.03 93.71 L460.06 93.86 L460.09 94.06 L460.12 94.25 L460.15 94.38 L460.18 94.41 L460.21 94.33 L460.24 94.17 L460.27 93.98 L460.30 93.81 L460.33 93.71 L460.36 93.72 L460.39 93.83 L460.42 94.00 L460.45 94.20 L460.48 94.36 L460.51 94.43 L460.54 94.40 L460.57 94.27 L460.60 94.09 L460.63 93.91 L460.66 93.79 L460.69 93.75 L460.72 93.82 L460.75 93.97 L460.78 94.16 L460.81 94.33 L460.84 94.44 L460.87 94.44 L460.90 94.35 L460.93 94.19 L460.96 94.01 L460.99 93.87 L461.02 93.80 L461.05 93.84 L461.08 93.97 L461.11 94.15 L461.14 94.32 L461.17 94.44 L461.20 94.47 L461.23 94.40 L461.26 94.26 L461.29 94.08 L461.32 93.94 L461.35 93.86 L461.38 93.88 L461.41 93.98 L461.44 94.15 L461.47 94.32 L461.50 94.45 L461.53 94.49 L461.56 94.44 L461.59 94.31 L461.62 94.14 L461.65 93.99 L461.68 93.91 L461.71 93.92 L461.74 94.02 L461.77 94.17 L461.80 94.34 L461.83 94.47 L461.86 94.51 L461.89 94.46 L461.92 94.34 L461.95 94.18 L461.98 94.04 L462.01 93.96 L462.04 93.97 L462.07 94.06 L462.10 94.21 L462.13 94.37 L462.16 94.49 L462.19 94.53 L462.22 94.48 L462.25 94.36 L462.28 94.21 L462.31 94.08 L462.34 94.01 L462.37 94.02 L462.40 94.12 L462.43 94.27 L462.46 94.42 L462.49 94.52 L462.52 94.55 L462.55 94.49 L462.58 94.37 L462.61 94.22 L462.64 94.10 L462.67 94.05 L462.70 94.08 L462.73 94.19 L462.76 94.33 L462.79 94.47 L462.82 94.56 L462.85 94.56 L462.88 94.49 L462.91 94.36 L462.94 94.23 L462.97 94.13 L463.00 94.10 L463.03 94.15 L463.06 94.27 L463.09 94.41 L463.12 94.53 L463.15 94.59 L463.18 94.57 L463.21 94.48 L463.24 94.35 L463.27 94.23 L463.30 94.16 L463.33 94.16 L463.36 94.23 L463.39 94.36 L463.42 94.49 L463.45 94.58 L463.48 94.61 L463.51 94.56 L463.54 94.45 L463.57 94.33 L463.60 94.23 L463.63 94.19 L463.66 94.23 L463.69 94.33 L463.72 94.45 L463.75 94.56 L463.78 94.62 L463.81 94.61 L463.84 94.53 L463.87 94.42 L463.90 94.31 L463.93 94.25 L463.96 94.25 L463.99 94.32 L464.02 94.43 L464.05 94.55 L464.08 94.63 L464.11 94.64 L464.14 94.59 L464.17 94.50 L464.20 94.39 L464.23 94.31 L464.26 94.29 L464.29 94.33 L464.32 94.43 L464.35 94.54 L464.38 94.63 L464.41 94.66 L464.44 94.64 L464.47 94.56 L464.50 94.46 L464.53 94.37 L464.56 94.33 L464.59 94.36 L464.62 94.44 L464.65 94.54 L464.68 94.63 L464.71 94.68 L464.74 94.67 L464.77 94.61 L464.80 94.51 L464.83 94.43 L464.86 94.38 L464.89 94.39 L464.92 94.46 L464.95 94.55 L464.98 94.64 L465.01 94.69 L465.04 94.69 L465.07 94.64 L465.10 94.56 L465.13 94.47 L465.16 94.42 L465.19 94.42 L465.22 94.48 L465.25 94.57 L465.28 94.66 L465.31 94.72 L465.34 94.72 L465.37 94.67 L465.40 94.59 L465.43 94.50 L465.46 94.45 L465.49 94.45 L465.52 94.50 L465.55 94.59 L465.58 94.68 L465.61 94.74 L465.64 94.75 L465.67 94.70 L465.70 94.61 L465.73 94.53 L465.76 94.48 L465.79 94.48 L465.82 94.54 L465.85 94.63 L465.88 94.72 L465.91 94.77 L465.94 94.77 L465.97 94.72 L466.00 94.63 L466.03 94.55 L466.06 94.50 L466.09 94.51 L466.12 94.57 L466.15 94.67 L466.18 94.75 L466.21 94.80 L466.24 94.79 L466.27 94.73 L466.30 94.64 L466.33 94.56 L466.36 94.53 L466.39 94.55 L466.42 94.62 L466.45 94.71 L466.48 94.79 L466.51 94.83 L466.54 94.81 L466.57 94.74 L466.60 94.65 L466.63 94.57 L466.66 94.55 L466.69 94.59 L466.72 94.67 L466.75 94.76 L466.78 94.83 L466.81 94.85 L466.84 94.81 L466.87 94.73 L466.90 94.64 L466.93 94.59 L466.96 94.58 L466.99 94.64 L467.02 94.73 L467.05 94.82 L467.08 94.87 L467.11 94.87 L467.14 94.81 L467.17 94.72 L467.20 94.64 L467.23 94.60 L467.26 94.63 L467.29 94.70 L467.32 94.80 L467.35 94.87 L467.38 94.90 L467.41 94.87 L467.44 94.79 L467.47 94.71 L467.50 94.64 L467.53 94.63 L467.56 94.69 L467.59 94.77 L467.62 94.87 L467.65 94.92 L467.68 94.92 L467.71 94.86 L467.74 94.77 L467.77 94.69 L467.80 94.66 L467.83 94.68 L467.86 94.76 L467.89 94.86 L467.92 94.93 L467.95 94.95 L467.98 94.91 L468.01 94.83 L468.04 94.74 L468.07 94.69 L468.10 94.69 L468.13 94.75 L468.16 94.85 L468.19 94.93 L468.22 94.97 L468.25 94.96 L468.28 94.88 L468.31 94.79 L468.34 94.72 L468.37 94.71 L468.40 94.76 L468.43 94.84 L468.46 94.94 L468.49 94.99 L468.52 94.99 L468.55 94.93 L468.58 94.84 L468.61 94.76 L468.64 94.73 L468.67 94.77 L468.70 94.85 L468.73 94.94 L468.76 95.01 L468.79 95.02 L468.82 94.97 L468.85 94.88 L468.88 94.80 L468.91 94.76 L468.94 94.78 L468.97 94.86 L469.00 94.95 L469.03 95.03 L469.06 95.05 L469.09 95.00 L469.12 94.92 L469.15 94.83 L469.18 94.78 L469.21 94.80 L469.24 94.87 L469.27 94.97 L469.30 95.05 L469.33 95.07 L469.36 95.03 L469.39 94.95 L469.42 94.86 L469.45 94.81 L469.48 94.82 L469.51 94.90 L469.54 94.99 L469.57 95.07 L469.60 95.09 L469.63 95.05 L469.66 94.97 L469.69 94.88 L469.72 94.83 L469.75 94.85 L469.78 94.92 L469.81 95.02 L469.84 95.10 L469.87 95.11 L469.90 95.07 L469.93 94.98 L469.96 94.90 L469.99 94.86 L470.02 94.88 L470.05 94.96 L470.08 95.05 L470.11 95.12 L470.14 95.14 L470.17 95.08 L470.20 94.99 L470.23 94.91 L470.26 94.88 L470.29 94.91 L470.32 95.00 L470.35 95.09 L470.38 95.15 L470.41 95.15 L470.44 95.09 L470.47 95.00 L470.50 94.93 L470.53 94.91 L470.56 94.95 L470.59 95.04 L470.62 95.13 L470.65 95.18 L470.68 95.16 L470.71 95.09 L470.74 95.00 L470.77 94.94 L470.80 94.94 L470.83 95.00 L470.86 95.10 L470.89 95.18 L470.92 95.21 L470.95 95.17 L470.98 95.08 L471.01 95.00 L471.04 94.95 L471.07 94.98 L471.10 95.05 L471.13 95.15 L471.16 95.22 L471.19 95.22 L471.22 95.16 L471.25 95.07 L471.28 95.00 L471.31 94.98 L471.34 95.03 L471.37 95.12 L471.40 95.21 L471.43 95.25 L471.46 95.23 L471.49 95.15 L471.52 95.06 L471.55 95.00 L471.58 95.02 L471.61 95.09 L471.64 95.19 L471.67 95.26 L471.70 95.27 L471.73 95.21 L471.76 95.12 L471.79 95.05 L471.82 95.02 L471.85 95.07 L471.88 95.16 L471.91 95.25 L471.94 95.29 L471.97 95.27 L472.00 95.19 L472.03 95.10 L472.06 95.05 L472.09 95.07 L472.12 95.14 L472.15 95.24 L472.18 95.31 L472.21 95.31 L472.24 95.24 L472.27 95.15 L472.30 95.08 L472.33 95.07 L472.36 95.13 L472.39 95.23 L472.42 95.31 L472.45 95.34 L472.48 95.29 L472.51 95.21 L472.54 95.12 L472.57 95.09 L472.60 95.13 L472.63 95.22 L472.66 95.31 L472.69 95.36 L472.72 95.33 L472.75 95.25 L472.78 95.16 L472.81 95.12 L472.84 95.14 L472.87 95.22 L472.90 95.31 L472.93 95.37 L472.96 95.37 L472.99 95.30 L473.02 95.20 L473.05 95.14 L473.08 95.15 L473.11 95.22 L473.14 95.32 L473.17 95.39 L473.20 95.39 L473.23 95.33 L473.26 95.24 L473.29 95.17 L473.32 95.17 L473.35 95.23 L473.38 95.32 L473.41 95.40 L473.44 95.42 L473.47 95.37 L473.50 95.27 L473.53 95.20 L473.56 95.18 L473.59 95.24 L473.62 95.34 L473.65 95.42 L473.68 95.44 L473.71 95.39 L473.74 95.30 L473.77 95.22 L473.80 95.21 L473.83 95.26 L473.86 95.35 L473.89 95.44 L473.92 95.46 L473.95 95.42 L473.98 95.33 L474.01 95.25 L474.04 95.23 L474.07 95.28 L474.10 95.38 L474.13 95.46 L474.16 95.48 L474.19 95.43 L474.22 95.34 L474.25 95.27 L474.28 95.25 L474.31 95.31 L474.34 95.40 L474.37 95.48 L474.40 95.50 L474.43 95.45 L474.46 95.36 L474.49 95.28 L474.52 95.27 L474.55 95.34 L474.58 95.43 L474.61 95.51 L474.64 95.52 L474.67 95.46 L474.70 95.37 L474.73 95.30 L474.76 95.30 L474.79 95.37 L474.82 95.47 L474.85 95.54 L474.88 95.53 L474.91 95.46 L474.94 95.37 L474.97 95.32 L475.00 95.33 L475.03 95.41 L475.06 95.51 L475.09 95.56 L475.12 95.54 L475.15 95.46 L475.18 95.37 L475.21 95.33 L475.24 95.37 L475.27 95.46 L475.30 95.55 L475.33 95.58 L475.36 95.55 L475.39 95.46 L475.42 95.38 L475.45 95.36 L475.48 95.41 L475.51 95.51 L475.54 95.59 L475.57 95.60 L475.60 95.54 L475.63 95.45 L475.66 95.38 L475.69 95.39 L475.72 95.46 L475.75 95.56 L475.78 95.62 L475.81 95.60 L475.84 95.53 L475.87 95.44 L475.90 95.40 L475.93 95.43 L475.96 95.52 L475.99 95.61 L476.02 95.64 L476.05 95.60 L476.08 95.51 L476.11 95.43 L476.14 95.42 L476.17 95.49 L476.20 95.59 L476.23 95.66 L476.26 95.65 L476.29 95.58 L476.32 95.49 L476.35 95.44 L476.38 95.47 L476.41 95.56 L476.44 95.65 L476.47 95.68 L476.50 95.64 L476.53 95.55 L476.56 95.47 L476.59 95.46 L476.62 95.53 L476.65 95.63 L476.68 95.69 L476.71 95.69 L476.74 95.61 L476.77 95.52 L476.80 95.48 L476.83 95.51 L476.86 95.61 L476.89 95.69 L476.92 95.72 L476.95 95.67 L476.98 95.58 L477.01 95.51 L477.04 95.51 L477.07 95.59 L477.10 95.68 L477.13 95.74 L477.16 95.71 L477.19 95.63 L477.22 95.55 L477.25 95.52 L477.28 95.57 L477.31 95.67 L477.34 95.75 L477.37 95.75 L477.40 95.68 L477.43 95.59 L477.46 95.54 L477.49 95.57 L477.52 95.66 L477.55 95.75 L477.58 95.78 L477.61 95.72 L477.64 95.63 L477.67 95.57 L477.70 95.57 L477.73 95.65 L477.76 95.75 L477.79 95.80 L477.82 95.76 L477.85 95.67 L477.88 95.59 L477.91 95.59 L477.94 95.65 L477.97 95.75 L478.00 95.81 L478.03 95.79 L478.06 95.71 L478.09 95.63 L478.12 95.60 L478.15 95.66 L478.18 95.75 L478.21 95.82 L478.24 95.82 L478.27 95.74 L478.30 95.65 L478.33 95.62 L478.36 95.66 L478.39 95.76 L478.42 95.84 L478.45 95.84 L478.48 95.77 L478.51 95.68 L478.54 95.64 L478.57 95.68 L478.60 95.77 L478.63 95.85 L478.66 95.86 L478.69 95.80 L478.72 95.71 L478.75 95.66 L478.78 95.69 L478.81 95.78 L478.84 95.87 L478.87 95.88 L478.90 95.82 L478.93 95.73 L478.96 95.68 L478.99 95.71 L479.02 95.80 L479.05 95.88 L479.08 95.90 L479.11 95.84 L479.14 95.75 L479.17 95.70 L479.20 95.73 L479.23 95.82 L479.26 95.90 L479.29 95.92 L479.32 95.85 L479.35 95.76 L479.38 95.71 L479.41 95.75 L479.44 95.84 L479.47 95.93 L479.50 95.93 L479.53 95.87 L479.56 95.77 L479.59 95.73 L479.62 95.78 L479.65 95.87 L479.68 95.95 L479.71 95.95 L479.74 95.87 L479.77 95.78 L479.80 95.75 L479.83 95.81 L479.86 95.90 L479.89 95.97 L479.92 95.96 L479.95 95.88 L479.98 95.79 L480.01 95.78 L480.04 95.84 L480.07 95.94 L480.10 95.99 L480.13 95.96 L480.16 95.88 L480.19 95.80 L480.22 95.80 L480.25 95.88 L480.28 95.97 L480.31 96.01 L480.34 95.96 L480.37 95.87 L480.40 95.81 L480.43 95.83 L480.46 95.92 L480.49 96.01 L480.52 96.02 L480.55 95.96 L480.58 95.87 L480.61 95.83 L480.64 95.87 L480.67 95.97 L480.70 96.04 L480.73 96.03 L480.76 95.95 L480.79 95.87 L480.82 95.85 L480.85 95.92 L480.88 96.01 L480.91 96.06 L480.94 96.03 L480.97 95.94 L481.00 95.87 L481.03 95.88 L481.06 95.97 L481.09 96.06 L481.12 96.08 L481.15 96.01 L481.18 95.92 L481.21 95.88 L481.24 95.93 L481.27 96.03 L481.30 96.09 L481.33 96.08 L481.36 95.99 L481.39 95.91 L481.42 95.91 L481.45 95.99 L481.48 96.08 L481.51 96.11 L481.54 96.06 L481.57 95.97 L481.60 95.92 L481.63 95.95 L481.66 96.05 L481.69 96.12 L481.72 96.12 L481.75 96.03 L481.78 95.95 L481.81 95.94 L481.84 96.02 L481.87 96.11 L481.90 96.15 L481.93 96.10 L481.96 96.01 L481.99 95.95 L482.02 95.99 L482.05 96.08 L482.08 96.16 L482.11 96.15 L482.14 96.06 L482.17 95.99 L482.20 95.98 L482.23 96.06 L482.26 96.15 L482.29 96.18 L482.32 96.12 L482.35 96.03 L482.38 95.99 L482.41 96.04 L482.44 96.13 L482.47 96.20 L482.50 96.17 L482.53 96.08" stroke="#0000ff" stroke-width="1.5"/>

<path d="M72.00 142.59 L72.50 142.23 L73.00 141.88 L73.50 141.53 L74.00 141.18 L74.50 140.84 L75.00 140.49 L75.50 140.14 L76.00 139.79 L76.50 139.45 L77.00 139.10 L77.50 138.76 L78.00 138.42 L78.50 138.08 L79.00 137.73 L79.50 137.39 L80.00 137.05 L80.50 136.71 L81.00 136.38 L81.50 136.04 L82.00 135.70 L82.50 135.37 L83.00 135.03 L83.50 134.70 L84.00 134.36 L84.50 134.03 L85.00 133.70 L85.50 133.37 L86.00 133.04 L86.50 132.71 L87.00 132.38 L87.50 132.05 L88.00 131.72 L88.50 131.39 L89.00 131.06 L89.50 130.74 L90.00 130.41 L90.50 130.09 L91.00 129.76 L91.50 129.44 L92.00 129.11 L92.50 128.79 L93.00 128.47 L93.50 128.15 L94.00 127.83 L94.50 127.51 L95.00 127.20 L95.50 126.88 L96.00 126.57 L96.50 126.25 L97.00 125.94 L97.50 125.63 L98.00 125.32 L98.50 125.01 L99.00 124.71 L99.50 124.40 L100.00 124.10 L100.50 123.80 L101.00 123.50 L101.50 123.20 L102.00 122.90 L102.50 122.60 L103.00 122.31 L103.50 122.01 L104.00 121.72 L104.50 121.43 L105.00 121.13 L105.50 120.84 L106.00 120.55 L106.50 120.26 L107.00 119.97 L107.50 119.69 L108.00 119.40 L108.50 119.11 L109.00 118.83 L109.50 118.55 L110.00 118.26 L110.50 117.98 L111.00 117.70 L111.50 117.41 L112.00 117.13 L112.50 116.85 L113.00 116.57 L113.50 116.29 L114.00 116.02 L114.50 115.74 L115.00 115.46 L115.50 115.18 L116.00 114.90 L116.50 114.63 L117.00 114.35 L117.50 114.08 L118.00 113.80 L118.50 113.52 L119.00 113.25 L119.50 112.97 L120.00 112.70 L120.50 112.43 L121.00 112.15 L121.50 111.87 L122.00 111.60 L122.50 111.32 L123.00 111.05 L123.50 110.77 L124.00 110.50 L124.50 110.22 L125.00 109.95 L125.50 109.67 L126.00 109.40 L126.50 109.12 L127.00 108.85 L127.50 108.58 L128.00 108.30 L128.50 108.03 L129.00 107.76 L129.50 107.49 L130.00 107.22 L130.50 106.95 L131.00 106.69 L131.50 106.42 L132.00 106.15 L132.50 105.89 L133.00 105.62 L133.50 105.36 L134.00 105.10 L134.50 104.84 L135.00 104.59 L135.50 104.33 L136.00 104.07 L136.50 103.82 L137.00 103.57 L137.50 103.32 L138.00 103.07 L138.50 102.83 L139.00 102.58 L139.50 102.34 L140.00 102.10 L140.50 101.86 L141.00 101.63 L141.50 101.39 L142.00 101.16 L142.50 100.93 L143.00 100.70 L143.50 100.47 L144.00 100.24 L144.50 100.01 L145.00 99.79 L145.50 99.56 L146.00 99.34 L146.50 99.12 L147.00 98.90 L147.50 98.68 L148.00 98.46 L148.50 98.24 L149.00 98.03 L149.50 97.81 L150.00 97.60 L150.50 97.38 L151.00 97.17 L151.50 96.96 L152.00 96.75 L152.50 96.53 L153.00 96.32 L153.50 96.11 L154.00 95.90 L154.50 95.69 L155.00 95.48 L155.50 95.27 L156.00 95.07 L156.50 94.86 L157.00 94.65 L157.50 94.44 L158.00 94.23 L158.50 94.02 L159.00 93.82 L159.50 93.61 L160.00 93.40 L160.50 93.19 L161.00 92.98 L161.50 92.78 L162.00 92.57 L162.50 92.36 L163.00 92.16 L163.50 91.95 L164.00 91.75 L164.50 91.54 L165.00 91.34 L165.50 91.13 L166.00 90.93 L166.50 90.72 L167.00 90.52 L167.50 90.32 L168.00 90.12 L168.50 89.91 L169.00 89.71 L169.50 89.51 L170.00 89.31 L170.50 89.11 L171.00 88.91 L171.50 88.71 L172.00 88.52 L172.50 88.32 L173.00 88.12 L173.50 87.92 L174.00 87.73 L174.50 87.53 L175.00 87.33 L175.50 87.14 L176.00 86.94 L176.50 86.75 L177.00 86.55 L177.50 86.36 L178.00 86.17 L178.50 85.97 L179.00 85.78 L179.50 85.59 L180.00 85.40 L180.50 85.21 L181.00 85.02 L181.50 84.83 L182.00 84.64 L182.50 84.45 L183.00 84.27 L183.50 84.08 L184.00 83.89 L184.50 83.71 L185.00 83.52 L185.50 83.34 L186.00 83.16 L186.50 82.97 L187.00 82.79 L187.50 82.61 L188.00 82.42 L188.50 82.24 L189.00 82.06 L189.50 81.88 L190.00 81.70 L190.50 81.52 L191.00 81.34 L191.50 81.16 L192.00 80.98 L192.50 80.80 L193.00 80.62 L193.50 80.44 L194.00 80.26 L194.50 80.08 L195.00 79.90 L195.50 79.72 L196.00 79.54 L196.50 79.36 L197.00 79.18 L197.50 79.00 L198.00 78.82 L198.50 78.64 L199.00 78.46 L199.50 78.28 L200.00 78.10 L200.50 77.92 L201.00 77.74 L201.50 77.56 L202.00 77.38 L202.50 77.20 L203.00 77.01 L203.50 76.83 L204.00 76.65 L204.50 76.47 L205.00 76.29 L205.50 76.11 L206.00 75.93 L206.50 75.75 L207.00 75.57 L207.50 75.39 L208.00 75.21 L208.50 75.03 L209.00 74.85 L209.50 74.67 L210.00 74.50 L210.50 74.32 L211.00 74.14 L211.50 73.97 L212.00 73.79 L212.50 73.62 L213.00 73.44 L213.50 73.27 L214.00 73.10 L214.50 72.93 L215.00 72.76 L215.50 72.58 L216.00 72.41 L216.50 72.24 L217.00 72.07 L217.50 71.90 L218.00 71.74 L218.50 71.57 L219.00 71.41 L219.50 71.26 L220.00 71.10 L220.50 70.95 L221.00 70.79 L221.50 70.63 L222.00 70.48 L222.50 70.32 L223.00 70.17 L223.50 70.01 L224.00 69.86 L224.50 69.71 L225.00 69.56 L225.50 69.41 L226.00 69.27 L226.50 69.13 L227.00 69.00 L227.50 68.87 L228.00 68.74 L228.50 68.62 L229.00 68.51 L229.50 68.40 L230.00 68.30 L230.50 68.20 L231.00 68.10 L231.50 68.00 L232.00 67.90 L232.50 67.79 L233.00 67.69 L233.50 67.60 L234.00 67.51 L234.50 67.42 L235.00 67.34 L235.50 67.27 L236.00 67.22 L236.50 67.17 L237.00 67.13 L237.50 67.11 L238.00 67.10 L238.50 67.11 L239.00 67.13 L239.50 67.17 L240.00 67.22 L240.50 67.29 L241.00 67.37 L241.50 67.46 L242.00 67.56 L242.50 67.66 L243.00 67.78 L243.50 67.91 L244.00 68.04 L244.50 68.17 L245.00 68.31 L245.50 68.45 L246.00 68.60 L246.50 68.76 L247.00 68.96 L247.50 69.18 L248.00 69.43 L248.50 69.70 L249.00 70.00 L249.50 70.32 L250.00 70.67 L250.50 71.03 L251.00 71.41 L251.50 71.81 L252.00 72.22" stroke="#ff0000" stroke-width="1.3"/>
<path d="M251.00 71.41 L251.50 71.81 L252.00 72.22 L252.50 72.65 L253.00 73.09 L253.50 73.54 L254.00 74.00 L254.50 74.50 L255.00 75.08 L255.50 75.71 L256.00 76.38 L256.50 77.09 L257.00 77.82 L257.50 78.56 L258.00 79.30 L258.50 80.04 L259.00 80.78 L259.50 81.55 L260.00 82.35 L260.50 83.19 L261.00 84.07 L261.50 85.00 L262.00 86.01 L262.50 87.09 L263.00 88.23 L263.50 89.43 L264.00 90.68 L264.50 91.94 L265.00 93.23 L265.50 94.52 L266.00 95.80 L266.50 97.08 L267.00 98.38 L267.50 99.69 L268.00 101.02 L268.50 102.37 L269.00 103.74 L269.50 105.14 L270.00 106.56 L270.50 108.00 L271.00 109.50 L271.50 111.08 L272.00 112.72 L272.50 114.40 L273.00 116.11 L273.50 117.82 L274.00 119.52 L274.50 121.19 L275.00 122.82 L275.50 124.38 L276.00 125.85 L276.50 127.23 L277.00 128.50 L277.50 129.75 L278.00 130.99 L278.50 132.20 L279.00 133.36 L279.50 134.46 L280.00 135.47 L280.50 136.38 L281.00 137.16 L281.50 137.80 L282.00 138.38 L282.50 138.93 L283.00 139.37 L283.50 139.65 L284.00 139.68 L284.50 139.49 L285.00 139.14 L285.50 138.67 L286.00 138.13 L286.50 137.56 L287.00 136.84 L287.50 135.93 L288.00 134.87 L288.50 133.68 L289.00 132.37 L289.50 130.97 L290.00 129.51 L290.50 128.00 L291.00 126.33 L291.50 124.41 L292.00 122.27 L292.50 119.99 L293.00 117.60 L293.50 115.15 L294.00 112.70 L294.50 110.30 L295.00 108.00 L295.50 105.73 L296.00 103.42 L296.50 101.08 L297.00 98.73 L297.50 96.38 L298.00 94.06 L298.50 91.78 L299.00 89.57 L299.50 87.43 L300.00 85.39 L300.50 83.42 L301.00 81.46 L301.50 79.63 L302.00 78.04 L302.50 76.74 L303.00 75.54 L303.50 74.43 L304.00 73.46 L304.50 72.64 L305.00 72.00 L305.50 71.46 L306.00 70.95 L306.50 70.50 L307.00 70.13 L307.50 69.89 L308.00 69.80 L308.50 69.84 L309.00 69.95 L309.50 70.12 L310.00 70.33 L310.50 70.56 L311.00 70.80 L311.50 71.09 L312.00 71.48 L312.50 71.95 L313.00 72.45 L313.50 72.99 L314.00 73.52 L314.50 74.03 L315.00 74.50 L315.50 74.95 L316.00 75.44 L316.50 75.93 L317.00 76.43 L317.50 76.91 L318.00 77.36 L318.50 77.77 L319.00 78.12 L319.50 78.40 L320.00 78.60 L320.50 78.74 L321.00 78.86 L321.50 78.97 L322.00 79.07 L322.50 79.16 L323.00 79.24 L323.50 79.31 L324.00 79.38 L324.50 79.44 L325.00 79.50 L325.50 79.56 L326.00 79.62 L326.50 79.67 L327.00 79.72 L327.50 79.78 L328.00 79.83 L328.50 79.88 L329.00 79.92 L329.50 79.97 L330.00 80.01 L330.50 80.06 L331.00 80.10 L331.50 80.14 L332.00 80.18 L332.50 80.22 L333.00 80.26 L333.50 80.29 L334.00 80.33 L334.50 80.36 L335.00 80.40 L335.50 80.43 L336.00 80.47 L336.50 80.50 L337.00 80.54 L337.50 80.57 L338.00 80.60 L338.50 80.64 L339.00 80.67 L339.50 80.70 L340.00 80.74 L340.50 80.77 L341.00 80.81 L341.50 80.84 L342.00 80.88 L342.50 80.91 L343.00 80.95 L343.50 80.98 L344.00 81.02 L344.50 81.06 L345.00 81.10 L345.50 81.14 L346.00 81.18 L346.50 81.22 L347.00 81.26 L347.50 81.30 L348.00 81.34 L348.50 81.38 L349.00 81.42 L349.50 81.46 L350.00 81.50 L350.50 81.54 L351.00 81.59 L351.50 81.63 L352.00 81.67 L352.50 81.71 L353.00 81.75 L353.50 81.79 L354.00 81.83 L354.50 81.87 L355.00 81.91 L355.50 81.95 L356.00 81.99 L356.50 82.03 L357.00 82.08 L357.50 82.12 L358.00 82.16 L358.50 82.20 L359.00 82.24 L359.50 82.28 L360.00 82.32 L360.50 82.36 L361.00 82.40 L361.50 82.44 L362.00 82.48 L362.50 82.52 L363.00 82.56 L363.50 82.60 L364.00 82.64 L364.50 82.68 L365.00 82.72 L365.50 82.76 L366.00 82.80 L366.50 82.84 L367.00 82.88 L367.50 82.92 L368.00 82.96 L368.50 83.00 L369.00 83.04 L369.50 83.08 L370.00 83.12 L370.50 83.16 L371.00 83.20 L371.50 83.23 L372.00 83.27 L372.50 83.31 L373.00 83.35 L373.50 83.39 L374.00 83.42 L374.50 83.46 L375.00 83.50 L375.50 83.54 L376.00 83.57 L376.50 83.61 L377.00 83.65 L377.50 83.68 L378.00 83.72 L378.50 83.75 L379.00 83.79 L379.50 83.82 L380.00 83.86 L380.50 83.89 L381.00 83.92 L381.50 83.96 L382.00 83.99 L382.50 84.02 L383.00 84.06 L383.50 84.09 L384.00 84.12 L384.50 84.16 L385.00 84.19 L385.50 84.22 L386.00 84.25 L386.50 84.29 L387.00 84.32 L387.50 84.35 L388.00 84.38 L388.50 84.42 L389.00 84.45 L389.50 84.48 L390.00 84.51 L390.50 84.55 L391.00 84.58 L391.50 84.61 L392.00 84.65 L392.50 84.68 L393.00 84.71 L393.50 84.75 L394.00 84.78 L394.50 84.81 L395.00 84.85 L395.50 84.88 L396.00 84.92 L396.50 84.95 L397.00 84.99 L397.50 85.02 L398.00 85.06 L398.50 85.09 L399.00 85.13 L399.50 85.17 L400.00 85.20 L400.50 85.24 L401.00 85.28 L401.50 85.32 L402.00 85.36 L402.50 85.40 L403.00 85.44 L403.50 85.48 L404.00 85.52 L404.50 85.56 L405.00 85.60 L405.50 85.64 L406.00 85.69 L406.50 85.73 L407.00 85.77 L407.50 85.82 L408.00 85.86 L408.50 85.91 L409.00 85.95 L409.50 86.00 L410.00 86.05 L410.50 86.10 L411.00 86.14 L411.50 86.19 L412.00 86.24 L412.50 86.29 L413.00 86.34 L413.50 86.39 L414.00 86.44 L414.50 86.49 L415.00 86.54 L415.50 86.59 L416.00 86.65 L416.50 86.70 L417.00 86.75 L417.50 86.80 L418.00 86.86 L418.50 86.91 L419.00 86.97 L419.50 87.02 L420.00 87.07 L420.50 87.13 L421.00 87.18 L421.50 87.24 L422.00 87.29 L422.50 87.35 L423.00 87.40 L423.50 87.46 L424.00 87.52 L424.50 87.57 L425.00 87.63 L425.50 87.69 L426.00 87.74 L426.50 87.80 L427.00 87.86 L427.50 87.91 L428.00 87.97 L428.50 88.03 L429.00 88.09 L429.50 88.14 L430.00 88.20 L430.50 88.26 L431.00 88.32 L431.50 88.38 L432.00 88.44 L432.50 88.50 L433.00 88.56 L433.50 88.62 L434.00 88.68 L434.50 88.75 L435.00 88.81 L435.50 88.87 L436.00 88.94 L436.50 89.00 L437.00 89.07 L437.50 89.13 L438.00 89.20 L438.50 89.27 L439.00 89.33 L439.50 89.40 L440.00 89.47 L440.50 89.53 L441.00 89.60 L441.50 89.67 L442.00 89.74 L442.50 89.80 L443.00 89.87 L443.50 89.94 L444.00 90.01 L444.50 90.07 L445.00 90.14 L445.50 90.21 L446.00 90.27 L446.50 90.34 L447.00 90.41 L447.50 90.47 L448.00 90.54 L448.50 90.60 L449.00 90.67 L449.50 90.73 L450.00 90.79 L450.50 90.86 L451.00 90.92 L451.50 90.98 L452.00 91.04 L452.50 91.11 L453.00 91.17 L453.50 91.23 L454.00 91.28 L454.50 91.34 L455.00 91.40 L455.50 91.46 L456.00 91.51 L456.50 91.57 L457.00 91.63 L457.50 91.69 L458.00 91.74 L458.50 91.80 L459.00 91.86 L459.50 91.91 L460.00 91.97 L460.50 92.02 L461.00 92.07 L461.50 92.13 L462.00 92.18 L462.50 92.23 L463.00 92.27 L463.50 92.32 L464.00 92.37 L464.50 92.41 L465.00 92.45 L465.50 92.49 L466.00 92.53 L466.50 92.57 L467.00 92.61 L467.50 92.65 L468.00 92.69 L468.50 92.72 L469.00 92.76 L469.50 92.80 L470.00 92.84 L470.50 92.87 L471.00 92.91 L471.50 92.94 L472.00 92.98 L472.50 93.01 L473.00 93.05 L473.50 93.08 L474.00 93.11 L474.50 93.15 L475.00 93.18 L475.50 93.21 L476.00 93.24 L476.50 93.27 L477.00 93.29 L477.50 93.32 L478.00 93.35 L478.50 93.37 L479.00 93.40 L479.50 93.42 L480.00 93.45 L480.50 93.47 L481.00 93.49 L481.50 93.51 L482.00 93.53 L482.50 93.55" stroke="#ff0000" stroke-width="1.45"/>

<path d="M70.00 76.20 L70.50 76.25 L71.00 76.31 L71.50 76.36 L72.00 76.41 L72.50 76.46 L73.00 76.52 L73.50 76.57 L74.00 76.62 L74.50 76.67 L75.00 76.72 L75.50 76.78 L76.00 76.83 L76.50 76.88 L77.00 76.93 L77.50 76.98 L78.00 77.03 L78.50 77.09 L79.00 77.14 L79.50 77.19 L80.00 77.24 L80.50 77.29 L81.00 77.34 L81.50 77.39 L82.00 77.44 L82.50 77.49 L83.00 77.54 L83.50 77.59 L84.00 77.64 L84.50 77.69 L85.00 77.74 L85.50 77.79 L86.00 77.84 L86.50 77.89 L87.00 77.94 L87.50 77.99 L88.00 78.04 L88.50 78.09 L89.00 78.14 L89.50 78.19 L90.00 78.24 L90.50 78.29 L91.00 78.34 L91.50 78.38 L92.00 78.43 L92.50 78.48 L93.00 78.53 L93.50 78.58 L94.00 78.63 L94.50 78.68 L95.00 78.72 L95.50 78.77 L96.00 78.82 L96.50 78.87 L97.00 78.92 L97.50 78.96 L98.00 79.01 L98.50 79.06 L99.00 79.11 L99.50 79.15 L100.00 79.20 L100.50 79.25 L101.00 79.29 L101.50 79.34 L102.00 79.39 L102.50 79.43 L103.00 79.48 L103.50 79.52 L104.00 79.57 L104.50 79.61 L105.00 79.65 L105.50 79.70 L106.00 79.74 L106.50 79.79 L107.00 79.83 L107.50 79.87 L108.00 79.92 L108.50 79.96 L109.00 80.00 L109.50 80.05 L110.00 80.09 L110.50 80.13 L111.00 80.18 L111.50 80.22 L112.00 80.27 L112.50 80.31 L113.00 80.35 L113.50 80.40 L114.00 80.44 L114.50 80.49 L115.00 80.53 L115.50 80.58 L116.00 80.62 L116.50 80.67 L117.00 80.71 L117.50 80.76 L118.00 80.81 L118.50 80.86 L119.00 80.90 L119.50 80.95 L120.00 81.00 L120.50 81.05 L121.00 81.10 L121.50 81.15 L122.00 81.20 L122.50 81.25 L123.00 81.30 L123.50 81.35 L124.00 81.40 L124.50 81.45 L125.00 81.50 L125.50 81.56 L126.00 81.61 L126.50 81.66 L127.00 81.71 L127.50 81.77 L128.00 81.82 L128.50 81.87 L129.00 81.92 L129.50 81.98 L130.00 82.03 L130.50 82.09 L131.00 82.14 L131.50 82.19 L132.00 82.25 L132.50 82.30 L133.00 82.36 L133.50 82.41 L134.00 82.47 L134.50 82.52 L135.00 82.58 L135.50 82.63 L136.00 82.69 L136.50 82.75 L137.00 82.80 L137.50 82.86 L138.00 82.91 L138.50 82.97 L139.00 83.03 L139.50 83.08 L140.00 83.14 L140.50 83.20 L141.00 83.25 L141.50 83.31 L142.00 83.37 L142.50 83.42 L143.00 83.48 L143.50 83.54 L144.00 83.59 L144.50 83.65 L145.00 83.71 L145.50 83.76 L146.00 83.82 L146.50 83.88 L147.00 83.94 L147.50 83.99 L148.00 84.05 L148.50 84.11 L149.00 84.16 L149.50 84.22 L150.00 84.28 L150.50 84.33 L151.00 84.39 L151.50 84.45 L152.00 84.50 L152.50 84.56 L153.00 84.62 L153.50 84.67 L154.00 84.73 L154.50 84.79 L155.00 84.84 L155.50 84.90 L156.00 84.96 L156.50 85.01 L157.00 85.07 L157.50 85.12 L158.00 85.18 L158.50 85.23 L159.00 85.29 L159.50 85.34 L160.00 85.40 L160.50 85.46 L161.00 85.51 L161.50 85.57 L162.00 85.62 L162.50 85.68 L163.00 85.73 L163.50 85.79 L164.00 85.84 L164.50 85.90 L165.00 85.95 L165.50 86.01 L166.00 86.07 L166.50 86.12 L167.00 86.18 L167.50 86.23 L168.00 86.29 L168.50 86.35 L169.00 86.40 L169.50 86.46 L170.00 86.51 L170.50 86.57 L171.00 86.62 L171.50 86.68 L172.00 86.74 L172.50 86.79 L173.00 86.85 L173.50 86.90 L174.00 86.96 L174.50 87.01 L175.00 87.06 L175.50 87.12 L176.00 87.17 L176.50 87.23 L177.00 87.28 L177.50 87.34 L178.00 87.39 L178.50 87.44 L179.00 87.49 L179.50 87.55 L180.00 87.60 L180.50 87.65 L181.00 87.70 L181.50 87.76 L182.00 87.81 L182.50 87.86 L183.00 87.91 L183.50 87.96 L184.00 88.01 L184.50 88.06 L185.00 88.10 L185.50 88.15 L186.00 88.20 L186.50 88.25 L187.00 88.30 L187.50 88.35 L188.00 88.40 L188.50 88.44 L189.00 88.49 L189.50 88.54 L190.00 88.59 L190.50 88.64 L191.00 88.69 L191.50 88.73 L192.00 88.78 L192.50 88.83 L193.00 88.88 L193.50 88.93 L194.00 88.98 L194.50 89.03 L195.00 89.08 L195.50 89.13 L196.00 89.18 L196.50 89.23 L197.00 89.28 L197.50 89.33 L198.00 89.39 L198.50 89.44 L199.00 89.49 L199.50 89.55 L200.00 89.60 L200.50 89.65 L201.00 89.71 L201.50 89.76 L202.00 89.82 L202.50 89.87 L203.00 89.93 L203.50 89.98 L204.00 90.04 L204.50 90.09 L205.00 90.15 L205.50 90.20 L206.00 90.26 L206.50 90.31 L207.00 90.37 L207.50 90.42 L208.00 90.48 L208.50 90.54 L209.00 90.59 L209.50 90.65 L210.00 90.71 L210.50 90.77 L211.00 90.83 L211.50 90.89 L212.00 90.95 L212.50 91.01 L213.00 91.07 L213.50 91.13 L214.00 91.19 L214.50 91.25 L215.00 91.32 L215.50 91.38 L216.00 91.45 L216.50 91.51 L217.00 91.58 L217.50 91.65 L218.00 91.72 L218.50 91.79 L219.00 91.86 L219.50 91.93 L220.00 92.00 L220.50 92.07 L221.00 92.15 L221.50 92.23 L222.00 92.30 L222.50 92.38 L223.00 92.46 L223.50 92.55 L224.00 92.63 L224.50 92.72 L225.00 92.80 L225.50 92.89 L226.00 92.98 L226.50 93.07 L227.00 93.16 L227.50 93.25 L228.00 93.34 L228.50 93.43 L229.00 93.53 L229.50 93.62 L230.00 93.72 L230.50 93.81 L231.00 93.91 L231.50 94.01 L232.00 94.11 L232.50 94.20 L233.00 94.30 L233.50 94.40 L234.00 94.50 L234.50 94.60 L235.00 94.70 L235.50 94.80 L236.00 94.90 L236.50 95.00 L237.00 95.10 L237.50 95.20 L238.00 95.30 L238.50 95.40 L239.00 95.50 L239.50 95.60 L240.00 95.70 L240.50 95.80 L241.00 95.90 L241.50 96.00 L242.00 96.10 L242.50 96.19 L243.00 96.29 L243.50 96.39 L244.00 96.49 L244.50 96.60 L245.00 96.70 L245.50 96.80 L246.00 96.91 L246.50 97.01 L247.00 97.12 L247.50 97.23 L248.00 97.34 L248.50 97.45 L249.00 97.56 L249.50 97.68 L250.00 97.80 L250.50 97.92 L251.00 98.05 L251.50 98.18 L252.00 98.32 L252.50 98.46 L253.00 98.60 L253.50 98.75 L254.00 98.89 L254.50 99.04 L255.00 99.20 L255.50 99.35 L256.00 99.51 L256.50 99.66 L257.00 99.82 L257.50 99.97 L258.00 100.13 L258.50 100.28 L259.00 100.43 L259.50 100.58 L260.00 100.73 L260.50 100.88 L261.00 101.02 L261.50 101.16 L262.00 101.30 L262.50 101.43 L263.00 101.56 L263.50 101.68 L264.00 101.80 L264.50 101.92 L265.00 102.03 L265.50 102.15 L266.00 102.27 L266.50 102.39 L267.00 102.50 L267.50 102.61 L268.00 102.72 L268.50 102.82 L269.00 102.91 L269.50 103.00 L270.00 103.07 L270.50 103.14 L271.00 103.20 L271.50 103.25 L272.00 103.30 L272.50 103.35 L273.00 103.40 L273.50 103.45 L274.00 103.49 L274.50 103.52 L275.00 103.55 L275.50 103.58 L276.00 103.59 L276.50 103.60 L277.00 103.60 L277.50 103.58 L278.00 103.54 L278.50 103.50 L279.00 103.44 L279.50 103.38 L280.00 103.30 L280.50 103.22 L281.00 103.13 L281.50 103.04 L282.00 102.94 L282.50 102.83 L283.00 102.69 L283.50 102.52 L284.00 102.32 L284.50 102.10 L285.00 101.86 L285.50 101.60 L286.00 101.32" stroke="#006400" stroke-width="1.3"/>
<path d="M285.00 101.86 L285.50 101.60 L286.00 101.32 L286.50 101.04 L287.00 100.73 L287.50 100.39 L288.00 100.01 L288.50 99.61 L289.00 99.18 L289.50 98.73 L290.00 98.25 L290.50 97.76 L291.00 97.25 L291.50 96.73 L292.00 96.20 L292.50 95.64 L293.00 95.04 L293.50 94.39 L294.00 93.72 L294.50 93.03 L295.00 92.32 L295.50 91.60 L296.00 90.88 L296.50 90.18 L297.00 89.49 L297.50 88.80 L298.00 88.07 L298.50 87.28 L299.00 86.40 L299.50 85.34 L300.00 84.09 L300.50 82.74 L301.00 81.40 L301.50 80.16 L302.00 79.09 L302.50 78.05 L303.00 77.02 L303.50 76.00 L304.00 75.00 L304.50 74.03 L305.00 73.10 L305.50 72.23 L306.00 71.42 L306.50 70.68 L307.00 70.02 L307.50 69.46 L308.00 69.00 L308.50 68.60 L309.00 68.20 L309.50 67.82 L310.00 67.45 L310.50 67.11 L311.00 66.79 L311.50 66.51 L312.00 66.27 L312.50 66.07 L313.00 65.92 L313.50 65.83 L314.00 65.80 L314.50 65.85 L315.00 65.99 L315.50 66.22 L316.00 66.53 L316.50 66.90 L317.00 67.32 L317.50 67.79 L318.00 68.30 L318.50 68.83 L319.00 69.38 L319.50 69.94 L320.00 70.50 L320.50 71.15 L321.00 71.96 L321.50 72.91 L322.00 73.94 L322.50 75.03 L323.00 76.14 L323.50 77.22 L324.00 78.25 L324.50 79.18 L325.00 79.97 L325.50 80.60 L326.00 81.12 L326.50 81.62 L327.00 82.10 L327.50 82.54 L328.00 82.94 L328.50 83.29 L329.00 83.59 L329.50 83.83 L330.00 83.57 L330.30 83.36 L330.60 83.12 L330.90 82.84 L331.20 82.54 L331.50 82.21 L331.80 81.85 L332.10 81.46 L332.40 81.05 L332.70 80.63 L333.00 80.19 L333.30 79.74 L333.60 79.28 L333.90 78.81 L334.20 78.35 L334.50 77.89 L334.80 77.43 L335.10 76.99 L335.40 76.56 L335.70 76.16 L336.00 75.77 L336.30 75.42 L336.60 75.09 L336.90 74.80 L337.20 74.55 L337.50 74.34 L337.80 74.18 L338.10 74.06 L338.40 73.99 L338.70 73.97 L339.00 74.00 L339.30 74.08 L339.60 74.21 L339.90 74.39 L340.20 74.63 L340.50 74.92 L340.80 75.24 L341.10 75.61 L341.40 76.02 L341.70 76.46 L342.00 76.92 L342.30 77.41 L342.60 77.91 L342.90 78.42 L343.20 78.93 L343.50 79.45 L343.80 79.95 L344.10 80.44 L344.40 80.90 L344.70 81.34 L345.00 81.74 L345.30 82.10 L345.60 82.42 L345.90 82.68 L346.20 82.90 L346.50 83.05 L346.80 83.15 L347.10 83.19 L347.40 83.17 L347.70 83.09 L348.00 82.95 L348.30 82.78 L348.60 82.56 L348.90 82.28 L349.20 81.96 L349.50 81.60 L349.80 81.21 L350.10 80.79 L350.40 80.35 L350.70 79.91 L351.00 79.47 L351.30 79.04 L351.60 78.63 L351.90 78.25 L352.20 77.90 L352.50 77.61 L352.80 77.36 L353.10 77.17 L353.40 77.05 L353.70 77.00 L354.00 77.02 L354.30 77.12 L354.60 77.28 L354.90 77.52 L355.20 77.82 L355.50 78.17 L355.80 78.58 L356.10 79.02 L356.40 79.50 L356.70 79.98 L357.00 80.48 L357.30 80.97 L357.60 81.43 L357.90 81.86 L358.20 82.25 L358.50 82.58 L358.80 82.85 L359.10 83.05 L359.40 83.17 L359.70 83.21 L360.00 83.16 L360.30 83.04 L360.60 82.85 L360.90 82.58 L361.20 82.26 L361.50 81.90 L361.80 81.50 L362.10 81.08 L362.40 80.66 L362.70 80.26 L363.00 79.88 L363.30 79.55 L363.60 79.28 L363.90 79.08 L364.20 78.96 L364.50 78.92 L364.80 78.97 L365.10 79.11 L365.40 79.32 L365.70 79.61 L366.00 79.96 L366.30 80.36 L366.60 80.79 L366.90 81.24 L367.20 81.68 L367.50 82.09 L367.80 82.46 L368.10 82.78 L368.40 83.02 L368.70 83.17 L369.00 83.24 L369.30 83.21 L369.60 83.10 L369.90 82.91 L370.20 82.65 L370.50 82.34 L370.80 81.99 L371.10 81.62 L371.40 81.25 L371.70 80.91 L372.00 80.61 L372.30 80.38 L372.60 80.24 L372.90 80.19 L373.20 80.24 L373.50 80.40 L373.80 80.65 L374.10 80.98 L374.40 81.37 L374.70 81.81 L375.00 82.25 L375.30 82.68 L375.60 83.06 L375.90 83.36 L376.20 83.57 L376.50 83.68 L376.80 83.66 L377.10 83.53 L377.40 83.29 L377.70 82.97 L378.00 82.59 L378.30 82.19 L378.60 81.79 L378.90 81.44 L379.20 81.17 L379.50 81.00 L379.80 80.96 L380.10 81.06 L380.40 81.28 L380.70 81.61 L381.00 82.03 L381.30 82.49 L381.60 82.96 L381.90 83.40 L382.20 83.76 L382.50 84.00 L382.80 84.10 L383.10 84.06 L383.40 83.87 L383.70 83.56 L384.00 83.17 L384.30 82.74 L384.60 82.32 L384.90 81.96 L385.20 81.72 L385.50 81.61 L385.80 81.67 L386.10 81.89 L386.40 82.24 L386.70 82.69 L387.00 83.19 L387.30 83.66 L387.60 84.06 L387.90 84.32 L388.20 84.43 L388.50 84.35 L388.80 84.11 L389.10 83.74 L389.40 83.29 L389.70 82.84 L390.00 82.46 L390.30 82.21 L390.60 82.14 L390.90 82.25 L391.20 82.55 L391.50 82.98 L391.80 83.49 L392.10 83.98 L392.40 84.38 L392.70 84.63 L393.00 84.68 L393.30 84.52 L393.60 84.19 L393.90 83.76 L394.20 83.29 L394.50 82.90 L394.80 82.65 L395.10 82.61 L395.40 82.79 L395.69 83.15 L395.99 83.63 L396.28 84.13 L396.57 84.56 L396.85 84.83 L397.14 84.91 L397.42 84.78 L397.70 84.48 L397.98 84.07 L398.26 83.64 L398.53 83.28 L398.80 83.06 L399.07 83.03 L399.34 83.21 L399.61 83.55 L399.87 84.00 L400.14 84.46 L400.40 84.86 L400.66 85.12 L400.92 85.19 L401.17 85.07 L401.42 84.78 L401.68 84.40 L401.93 84.00 L402.18 83.66 L402.42 83.47 L402.67 83.45 L402.91 83.63 L403.16 83.96 L403.40 84.38 L403.64 84.83 L403.88 85.20 L404.11 85.44 L404.35 85.50 L404.58 85.37 L404.81 85.09 L405.04 84.72 L405.27 84.34 L405.50 84.02 L405.73 83.84 L405.95 83.83 L406.18 84.01 L406.40 84.33 L406.62 84.74 L406.84 85.16 L407.06 85.51 L407.28 85.73 L407.49 85.78 L407.71 85.65 L407.92 85.38 L408.14 85.02 L408.35 84.66 L408.56 84.36 L408.77 84.19 L408.97 84.19 L409.18 84.36 L409.39 84.67 L409.59 85.06 L409.79 85.46 L410.00 85.80 L410.20 86.00 L410.40 86.04 L410.60 85.91 L410.80 85.65 L410.99 85.30 L411.19 84.95 L411.38 84.66 L411.58 84.51 L411.77 84.51 L411.96 84.68 L412.15 84.98 L412.34 85.36 L412.53 85.75 L412.72 86.06 L412.91 86.25 L413.10 86.28 L413.28 86.15 L413.47 85.89 L413.65 85.56 L413.83 85.22 L414.01 84.95 L414.20 84.80 L414.38 84.81 L414.55 84.98 L414.73 85.27 L414.91 85.64 L415.09 86.01 L415.26 86.31 L415.44 86.49 L415.61 86.51 L415.79 86.38 L415.96 86.13 L416.13 85.80 L416.30 85.48 L416.47 85.22 L416.64 85.09 L416.81 85.10 L416.98 85.26 L417.15 85.55 L417.31 85.90 L417.48 86.25 L417.65 86.54 L417.81 86.70 L417.97 86.72 L418.14 86.59 L418.30 86.34 L418.46 86.03 L418.62 85.72 L418.78 85.48 L418.94 85.35 L419.10 85.37 L419.26 85.53 L419.42 85.81 L419.57 86.14 L419.73 86.48 L419.89 86.75 L420.04 86.91 L420.20 86.92 L420.35 86.79 L420.50 86.55 L420.66 86.25 L420.81 85.95 L420.96 85.72 L421.11 85.60 L421.26 85.62 L421.41 85.78 L421.56 86.05 L421.71 86.37 L421.85 86.70 L422.00 86.95 L422.15 87.10 L422.29 87.11 L422.44 86.98 L422.58 86.75 L422.73 86.46 L422.87 86.17 L423.02 85.95 L423.16 85.84 L423.30 85.86 L423.44 86.02 L423.58 86.27 L423.72 86.59 L423.87 86.90 L424.00 87.14 L424.14 87.28 L424.28 87.28 L424.42 87.16 L424.56 86.93 L424.70 86.65 L424.83 86.38 L424.97 86.17 L425.10 86.06 L425.24 86.09 L425.37 86.24 L425.51 86.49 L425.64 86.79 L425.77 87.09 L425.91 87.32 L426.04 87.45 L426.17 87.45 L426.30 87.33 L426.43 87.11 L426.56 86.84 L426.69 86.57 L426.82 86.37 L426.95 86.27 L427.08 86.30 L427.21 86.45 L427.34 86.70 L427.47 86.99 L427.59 87.27 L427.72 87.50 L427.84 87.62 L427.97 87.61 L428.10 87.49 L428.22 87.28 L428.35 87.02 L428.47 86.76 L428.59 86.57 L428.72 86.48 L428.84 86.51 L428.96 86.65 L429.08 86.89 L429.21 87.17 L429.33 87.45 L429.45 87.66 L429.57 87.77 L429.69 87.77 L429.81 87.65 L429.93 87.44 L430.05 87.19 L430.16 86.94 L430.28 86.76 L430.40 86.67 L430.52 86.70 L430.64 86.85 L430.75 87.08 L430.87 87.35 L430.99 87.61 L431.10 87.82 L431.22 87.92 L431.33 87.92 L431.45 87.80 L431.56 87.59 L431.67 87.35 L431.79 87.12 L431.90 86.94 L432.01 86.86 L432.13 86.89 L432.24 87.03 L432.35 87.25 L432.46 87.52 L432.57 87.77 L432.68 87.97 L432.80 88.07 L432.91 88.06 L433.02 87.94 L433.13 87.74 L433.23 87.51 L433.34 87.28 L433.45 87.11 L433.56 87.04 L433.67 87.07 L433.78 87.21 L433.88 87.42 L433.99 87.68 L434.10 87.92 L434.21 88.11 L434.31 88.21 L434.42 88.19 L434.52 88.08 L434.63 87.89 L434.73 87.66 L434.84 87.44 L434.94 87.28 L435.05 87.21 L435.15 87.24 L435.26 87.38 L435.36 87.59 L435.46 87.83 L435.56 88.07 L435.67 88.25 L435.77 88.34 L435.87 88.33 L435.97 88.21 L436.07 88.03 L436.18 87.81 L436.28 87.60 L436.38 87.44 L436.48 87.37 L436.58 87.41 L436.68 87.54 L436.78 87.74 L436.88 87.98 L436.98 88.21 L437.07 88.38 L437.17 88.47 L437.27 88.45 L437.37 88.34 L437.47 88.16 L437.56 87.95 L437.66 87.74 L437.76 87.60 L437.86 87.53 L437.95 87.57 L438.05 87.70 L438.14 87.89 L438.24 88.13 L438.34 88.34 L438.43 88.51 L438.53 88.59 L438.62 88.57 L438.72 88.47 L438.81 88.29 L438.90 88.08 L439.00 87.89 L439.09 87.75 L439.19 87.69 L439.28 87.72 L439.37 87.85 L439.46 88.04 L439.56 88.26 L439.65 88.47 L439.74 88.63 L439.83 88.71 L439.92 88.69 L440.02 88.59 L440.11 88.41 L440.20 88.21 L440.29 88.03 L440.38 87.89 L440.47 87.83 L440.56 87.87 L440.65 87.99 L440.74 88.18 L440.83 88.40 L440.92 88.60 L441.01 88.75 L441.10 88.82 L441.18 88.81 L441.27 88.70 L441.36 88.54 L441.45 88.34 L441.54 88.16 L441.62 88.03 L441.71 87.98 L441.80 88.01 L441.89 88.13 L441.97 88.32 L442.06 88.52 L442.15 88.72 L442.23 88.87 L442.32 88.94 L442.40 88.92 L442.49 88.82 L442.58 88.65 L442.66 88.47 L442.75 88.29 L442.83 88.17 L442.92 88.12 L443.00 88.15 L443.08 88.27 L443.17 88.45 L443.25 88.65 L443.34 88.84 L443.42 88.98 L443.50 89.04 L443.59 89.02 L443.67 88.92 L443.75 88.77 L443.83 88.59 L443.92 88.42 L444.00 88.30 L444.08 88.25 L444.16 88.29 L444.24 88.40 L444.33 88.57 L444.41 88.77 L444.49 88.95 L444.57 89.09 L444.65 89.15 L444.73 89.13 L444.81 89.03 L444.89 88.88 L444.97 88.70 L445.05 88.54 L445.13 88.43 L445.21 88.38 L445.29 88.42 L445.37 88.53 L445.45 88.70 L445.53 88.88 L445.61 89.06 L445.69 89.19 L445.77 89.25 L445.84 89.23 L445.92 89.13 L446.00 88.99 L446.08 88.82 L446.16 88.66 L446.23 88.55 L446.31 88.51 L446.39 88.54 L446.47 88.65 L446.54 88.82 L446.62 89.00 L446.70 89.17 L446.77 89.29 L446.85 89.35 L446.92 89.33 L447.00 89.23 L447.08 89.09 L447.15 88.93 L447.23 88.78 L447.30 88.67 L447.38 88.63 L447.45 88.67 L447.53 88.77 L447.60 88.93 L447.68 89.11 L447.75 89.27 L447.83 89.39 L447.90 89.44 L447.97 89.42 L448.05 89.33 L448.12 89.19 L448.20 89.03 L448.27 88.89 L448.34 88.79 L448.42 88.75 L448.49 88.79 L448.56 88.89 L448.63 89.04 L448.71 89.21 L448.78 89.37 L448.85 89.49 L448.92 89.54 L449.00 89.51 L449.07 89.43 L449.14 89.29 L449.21 89.14 L449.28 89.00 L449.36 88.90 L449.43 88.87 L449.50 88.90 L449.57 89.01 L449.64 89.15 L449.71 89.32 L449.78 89.47 L449.85 89.58 L449.92 89.63 L449.99 89.60 L450.06 89.52 L450.13 89.39 L450.20 89.24 L450.27 89.11 L450.34 89.01 L450.41 88.98 L450.48 89.01 L450.55 89.11 L450.62 89.26 L450.69 89.42 L450.76 89.57 L450.82 89.67 L450.89 89.72 L450.96 89.70 L451.03 89.61 L451.10 89.49 L451.17 89.34 L451.23 89.21 L451.30 89.12 L451.37 89.08 L451.44 89.12 L451.50 89.22 L451.57 89.36 L451.64 89.52 L451.71 89.66 L451.77 89.77 L451.84 89.81 L451.91 89.79 L451.97 89.71 L452.04 89.58 L452.11 89.44 L452.17 89.31 L452.24 89.22 L452.31 89.19 L452.37 89.22 L452.44 89.32 L452.50 89.46 L452.57 89.61 L452.63 89.76 L452.70 89.86 L452.76 89.90 L452.83 89.88 L452.89 89.80 L452.96 89.67 L453.02 89.53 L453.09 89.40 L453.15 89.32 L453.22 89.29 L453.28 89.32 L453.35 89.42 L453.41 89.56 L453.48 89.71 L453.54 89.85 L453.60 89.95 L453.67 89.99 L453.73 89.97 L453.79 89.88 L453.86 89.76 L453.92 89.62 L453.98 89.50 L454.05 89.41 L454.11 89.38 L454.17 89.42 L454.24 89.51 L454.30 89.65 L454.36 89.80 L454.42 89.94 L454.49 90.03 L454.55 90.08 L454.61 90.05 L454.67 89.97 L454.73 89.85 L454.80 89.71 L454.86 89.59 L454.92 89.51 L454.98 89.48 L455.04 89.52 L455.10 89.61 L455.16 89.74 L455.23 89.89 L455.29 90.03 L455.35 90.12 L455.41 90.16 L455.47 90.14 L455.53 90.06 L455.59 89.94 L455.65 89.80 L455.71 89.68 L455.77 89.60 L455.83 89.58 L455.89 89.61 L455.95 89.71 L456.01 89.84 L456.07 89.99 L456.13 90.12 L456.19 90.21 L456.25 90.25 L456.31 90.23 L456.37 90.15 L456.43 90.03 L456.49 89.90 L456.55 89.78 L456.61 89.70 L456.67 89.67 L456.72 89.71 L456.78 89.80 L456.84 89.93 L456.90 90.08 L456.96 90.21 L457.02 90.30 L457.07 90.33 L457.13 90.31 L457.19 90.23 L457.25 90.12 L457.31 89.99 L457.36 89.87 L457.42 89.79 L457.48 89.77 L457.54 89.81 L457.59 89.90 L457.65 90.02 L457.71 90.17 L457.77 90.29 L457.82 90.38 L457.88 90.42 L457.94 90.39 L457.99 90.32 L458.05 90.20 L458.11 90.07 L458.16 89.96 L458.22 89.88 L458.28 89.86 L458.33 89.90 L458.39 89.99 L458.45 90.11 L458.50 90.25 L458.56 90.38 L458.61 90.47 L458.67 90.50 L458.73 90.48 L458.78 90.40 L458.84 90.29 L458.89 90.16 L458.95 90.05 L459.00 89.97 L459.06 89.95 L459.11 89.99 L459.17 90.08 L459.22 90.20 L459.28 90.34 L459.33 90.46 L459.39 90.55 L459.44 90.58 L459.50 90.56 L459.55 90.48 L459.61 90.37 L459.66 90.24 L459.72 90.13 L459.77 90.06 L459.82 90.04 L459.88 90.08 L459.93 90.17 L459.99 90.29 L460.04 90.42 L460.09 90.54 L460.15 90.63 L460.20 90.66 L460.25 90.63 L460.31 90.56 L460.36 90.45 L460.41 90.33 L460.47 90.22 L460.52 90.15 L460.57 90.13 L460.63 90.16 L460.68 90.25 L460.73 90.37 L460.79 90.51 L460.84 90.62 L460.89 90.71 L460.94 90.74 L461.00 90.71 L461.05 90.64 L461.10 90.53 L461.15 90.41 L461.21 90.30 L461.26 90.23 L461.31 90.21 L461.36 90.25 L461.41 90.34 L461.47 90.46 L461.52 90.59 L461.57 90.70 L461.62 90.78 L461.67 90.81 L461.72 90.79 L461.78 90.71 L461.83 90.61 L461.88 90.49 L461.93 90.38 L461.98 90.32 L462.03 90.30 L462.08 90.33 L462.13 90.42 L462.18 90.54 L462.24 90.66 L462.29 90.78 L462.34 90.86 L462.39 90.89 L462.44 90.86 L462.49 90.79 L462.54 90.68 L462.59 90.57 L462.64 90.46 L462.69 90.40 L462.74 90.38 L462.79 90.42 L462.84 90.50 L462.89 90.62 L462.94 90.74 L462.99 90.85 L463.04 90.93 L463.09 90.96 L463.14 90.93 L463.19 90.86 L463.24 90.76 L463.29 90.64 L463.34 90.54 L463.39 90.48 L463.44 90.46 L463.48 90.50 L463.53 90.58 L463.58 90.69 L463.63 90.82 L463.68 90.93 L463.73 91.00 L463.78 91.03 L463.83 91.01 L463.88 90.93 L463.92 90.83 L463.97 90.72 L464.02 90.62 L464.07 90.56 L464.12 90.54 L464.17 90.58 L464.21 90.66 L464.26 90.77 L464.31 90.89 L464.36 91.00 L464.41 91.07 L464.45 91.10 L464.50 91.08 L464.55 91.00 L464.60 90.90 L464.65 90.79 L464.69 90.70 L464.74 90.63 L464.79 90.62 L464.84 90.65 L464.88 90.74 L464.93 90.85 L464.98 90.97 L465.02 91.07 L465.07 91.14 L465.12 91.17 L465.17 91.14 L465.21 91.07 L465.26 90.97 L465.31 90.86 L465.35 90.76 L465.40 90.70 L465.45 90.68 L465.49 90.72 L465.54 90.80 L465.59 90.91 L465.63 91.02 L465.68 91.13 L465.73 91.20 L465.77 91.22 L465.82 91.19 L465.86 91.12 L465.91 91.02 L465.96 90.91 L466.00 90.82 L466.05 90.76 L466.09 90.74 L466.14 90.78 L466.19 90.86 L466.23 90.96 L466.28 91.08 L466.32 91.18 L466.37 91.25 L466.41 91.27 L466.46 91.24 L466.51 91.17 L466.55 91.07 L466.60 90.97 L466.64 90.88 L466.69 90.82 L466.73 90.80 L466.78 90.84 L466.82 90.91 L466.87 91.02 L466.91 91.13 L466.96 91.23 L467.00 91.30 L467.05 91.32 L467.09 91.29 L467.14 91.22 L467.18 91.13 L467.22 91.02 L467.27 90.93 L467.31 90.87 L467.36 90.86 L467.40 90.89 L467.45 90.97 L467.49 91.07 L467.53 91.19 L467.58 91.28 L467.62 91.35 L467.67 91.37 L467.71 91.34 L467.76 91.27 L467.80 91.18 L467.84 91.08 L467.89 90.99 L467.93 90.93 L467.97 90.92 L468.02 90.95 L468.06 91.03 L468.10 91.13 L468.15 91.24 L468.19 91.33 L468.23 91.40 L468.28 91.42 L468.32 91.39 L468.36 91.32 L468.41 91.23 L468.45 91.13 L468.49 91.04 L468.54 90.98 L468.58 90.97 L468.62 91.01 L468.67 91.08 L468.71 91.18 L468.75 91.29 L468.79 91.38 L468.84 91.45 L468.88 91.47 L468.92 91.44 L468.96 91.37 L469.01 91.28 L469.05 91.18 L469.09 91.09 L469.13 91.04 L469.18 91.03 L469.22 91.06 L469.26 91.13 L469.30 91.23 L469.35 91.34 L469.39 91.43 L469.43 91.49 L469.47 91.51 L469.51 91.49 L469.56 91.42 L469.60 91.33 L469.64 91.23 L469.68 91.15 L469.72 91.09 L469.76 91.08 L469.81 91.11 L469.85 91.19 L469.89 91.28 L469.93 91.39 L469.97 91.48 L470.01 91.54 L470.05 91.56 L470.10 91.53 L470.14 91.47 L470.18 91.38 L470.22 91.28 L470.26 91.20 L470.30 91.14 L470.34 91.13 L470.38 91.17 L470.42 91.24 L470.47 91.34 L470.51 91.44 L470.55 91.53 L470.59 91.59 L470.63 91.60 L470.67 91.58 L470.71 91.51 L470.75 91.43 L470.79 91.33 L470.83 91.25 L470.87 91.20 L470.91 91.19 L470.95 91.22 L470.99 91.29 L471.03 91.39 L471.07 91.49 L471.11 91.57 L471.15 91.63 L471.19 91.65 L471.23 91.62 L471.27 91.56 L471.31 91.47 L471.35 91.38 L471.39 91.30 L471.43 91.25 L471.47 91.24 L471.51 91.27 L471.55 91.34 L471.59 91.43 L471.63 91.53 L471.67 91.62 L471.71 91.68 L471.75 91.69 L471.79 91.67 L471.83 91.61 L471.87 91.52 L471.91 91.43 L471.95 91.35 L471.99 91.30 L472.03 91.29 L472.07 91.32 L472.11 91.39 L472.14 91.48 L472.18 91.58 L472.22 91.67 L472.26 91.72 L472.30 91.74 L472.34 91.71 L472.38 91.65 L472.42 91.56 L472.46 91.47 L472.49 91.40 L472.53 91.35 L472.57 91.34 L472.61 91.37 L472.65 91.44 L472.69 91.53 L472.73 91.63 L472.76 91.71 L472.80 91.77 L472.84 91.78 L472.88 91.75 L472.92 91.69 L472.96 91.61 L472.99 91.52 L473.03 91.44 L473.07 91.40 L473.11 91.39 L473.15 91.42 L473.19 91.49 L473.22 91.58 L473.26 91.67 L473.30 91.75 L473.34 91.81 L473.38 91.82 L473.41 91.80 L473.45 91.74 L473.49 91.65 L473.53 91.57 L473.56 91.49 L473.60 91.45 L473.64 91.44 L473.68 91.47 L473.71 91.54 L473.75 91.62 L473.79 91.72 L473.83 91.80 L473.86 91.85 L473.90 91.86 L473.94 91.84 L473.98 91.78 L474.01 91.70 L474.05 91.61 L474.09 91.54 L474.12 91.49 L474.16 91.48 L474.20 91.52 L474.24 91.58 L474.27 91.67 L474.31 91.76 L474.35 91.84 L474.38 91.89 L474.42 91.91 L474.46 91.88 L474.49 91.82 L474.53 91.74 L474.57 91.66 L474.60 91.58 L474.64 91.54 L474.68 91.53 L474.71 91.56 L474.75 91.63 L474.79 91.71 L474.82 91.81 L474.86 91.88 L474.90 91.93 L474.93 91.95 L474.97 91.92 L475.01 91.86 L475.04 91.78 L475.08 91.70 L475.11 91.63 L475.15 91.59 L475.19 91.58 L475.22 91.61 L475.26 91.67 L475.29 91.76 L475.33 91.85 L475.37 91.92 L475.40 91.97 L475.44 91.99 L475.47 91.96 L475.51 91.90 L475.55 91.83 L475.58 91.74 L475.62 91.67 L475.65 91.63 L475.69 91.63 L475.72 91.66 L475.76 91.72 L475.79 91.80 L475.83 91.89 L475.87 91.97 L475.90 92.01 L475.94 92.03 L475.97 92.00 L476.01 91.94 L476.04 91.87 L476.08 91.79 L476.11 91.72 L476.15 91.68 L476.18 91.67 L476.22 91.70 L476.25 91.76 L476.29 91.85 L476.32 91.93 L476.36 92.01 L476.39 92.05 L476.43 92.07 L476.46 92.04 L476.50 91.98 L476.53 91.91 L476.57 91.83 L476.60 91.76 L476.64 91.72 L476.67 91.72 L476.71 91.75 L476.74 91.81 L476.78 91.89 L476.81 91.97 L476.85 92.05 L476.88 92.09 L476.91 92.10 L476.95 92.08 L476.98 92.02 L477.02 91.95 L477.05 91.87 L477.09 91.81 L477.12 91.77 L477.15 91.76 L477.19 91.79 L477.22 91.85 L477.26 91.93 L477.29 92.01 L477.33 92.09 L477.36 92.13 L477.39 92.14 L477.43 92.12 L477.46 92.06 L477.50 91.99 L477.53 91.91 L477.56 91.85 L477.60 91.81 L477.63 91.80 L477.67 91.83 L477.70 91.89 L477.73 91.97 L477.77 92.05 L477.80 92.12 L477.83 92.17 L477.87 92.18 L477.90 92.16 L477.93 92.10 L477.97 92.03 L478.00 91.95 L478.04 91.89 L478.07 91.85 L478.10 91.85 L478.14 91.88 L478.17 91.94 L478.20 92.01 L478.24 92.09 L478.27 92.16 L478.30 92.21 L478.34 92.22 L478.37 92.19 L478.40 92.14 L478.43 92.07 L478.47 91.99 L478.50 91.93 L478.53 91.89 L478.57 91.89 L478.60 91.92 L478.63 91.98 L478.67 92.05 L478.70 92.13 L478.73 92.20 L478.76 92.24 L478.80 92.25 L478.83 92.23 L478.86 92.18 L478.90 92.11 L478.93 92.03 L478.96 91.97 L478.99 91.94 L479.03 91.93 L479.06 91.96 L479.09 92.02 L479.12 92.09 L479.16 92.17 L479.19 92.24 L479.22 92.28 L479.25 92.29 L479.29 92.27 L479.32 92.21 L479.35 92.15 L479.38 92.07 L479.42 92.01 L479.45 91.98 L479.48 91.97 L479.51 92.00 L479.54 92.06 L479.58 92.13 L479.61 92.21 L479.64 92.28 L479.67 92.32 L479.70 92.33 L479.74 92.30 L479.77 92.25 L479.80 92.18 L479.83 92.11 L479.86 92.05 L479.90 92.02 L479.93 92.02 L479.96 92.04 L479.99 92.10 L480.02 92.17 L480.06 92.25 L480.09 92.31 L480.12 92.35 L480.15 92.36 L480.18 92.34 L480.21 92.29 L480.25 92.22 L480.28 92.15 L480.31 92.09 L480.34 92.06 L480.37 92.06 L480.40 92.08 L480.43 92.14 L480.47 92.21 L480.50 92.29 L480.53 92.35 L480.56 92.39 L480.59 92.40 L480.62 92.37 L480.65 92.32 L480.68 92.26 L480.72 92.19 L480.75 92.13 L480.78 92.10 L480.81 92.10 L480.84 92.12 L480.87 92.18 L480.90 92.25 L480.93 92.32 L480.96 92.38 L481.00 92.42 L481.03 92.43 L481.06 92.41 L481.09 92.36 L481.12 92.29 L481.15 92.23 L481.18 92.17 L481.21 92.14 L481.24 92.14 L481.27 92.16 L481.30 92.22 L481.33 92.29 L481.37 92.36 L481.40 92.42 L481.43 92.46 L481.46 92.47 L481.49 92.44 L481.52 92.39 L481.55 92.33 L481.58 92.27 L481.61 92.21 L481.64 92.18 L481.67 92.18 L481.70 92.20 L481.73 92.26 L481.76 92.32 L481.79 92.39 L481.82 92.45 L481.85 92.49 L481.88 92.50 L481.91 92.48 L481.94 92.43 L481.97 92.37 L482.00 92.30 L482.03 92.25 L482.06 92.22 L482.09 92.21 L482.12 92.24 L482.15 92.29 L482.18 92.36 L482.21 92.43 L482.24 92.49 L482.27 92.53 L482.30 92.53 L482.33 92.51 L482.36 92.46 L482.39 92.40 L482.42 92.34 L482.45 92.28 L482.48 92.25 L482.51 92.25" stroke="#006400" stroke-width="1.6"/>

<path d="M70.00 240.85 L76.99 241.19 L83.98 241.52 L90.97 241.86 L97.97 242.20 L104.96 242.53 L111.95 242.87 L118.94 243.21 L125.93 243.55 L132.92 243.89 L139.92 244.23 L146.91 244.57 L153.90 244.91 L160.89 245.25 L167.88 245.59 L174.87 245.94 L181.86 246.28 L188.86 246.62 L195.85 246.97 L202.84 247.31 L209.83 247.66 L216.82 248.00 L223.81 248.35 L230.81 248.70 L237.80 249.04 L244.79 249.39 L251.78 249.74 L258.77 250.09 L265.76 250.44 L272.75 250.79 L279.75 251.14 L286.74 251.49 L293.73 251.84 L300.72 252.19 L307.71 252.54 L314.70 252.90 L321.69 253.25 L328.69 253.60 L335.68 253.96 L342.67 254.31 L349.66 254.67 L356.65 255.02 L363.64 255.38 L370.64 255.73 L377.63 256.09 L384.62 256.45 L391.61 256.80 L398.60 257.16 L405.59 257.52 L412.58 257.88 L419.58 258.24 L426.57 258.60 L433.56 258.96 L440.55 259.32 L447.54 259.68 L454.53 260.05 L461.53 260.41 L468.52 260.77 L475.51 261.14 L482.50 261.50" stroke="#000" stroke-width="1.25" stroke-dasharray="2.9 1.1"/><path d="M70.00 239.40 L76.99 240.15 L83.98 240.87 L90.97 241.51 L97.97 242.09 L104.96 242.63 L111.95 243.13 L118.94 243.62 L125.93 244.08 L132.92 244.53 L139.92 244.97 L146.91 245.41 L153.90 245.84 L160.89 246.27 L167.88 246.68 L174.87 247.09 L181.86 247.50 L188.86 247.89 L195.85 248.28 L202.84 248.67 L209.83 249.05 L216.82 249.43 L223.81 249.80 L230.81 250.17 L237.80 250.54 L244.79 250.91 L251.78 251.28 L258.77 251.65 L265.76 252.01 L272.75 252.37 L279.75 252.73 L286.74 253.08 L293.73 253.43 L300.72 253.78 L307.71 254.12 L314.70 254.47 L321.69 254.81 L328.69 255.15 L335.68 255.50 L342.67 255.84 L349.66 256.19 L356.65 256.53 L363.64 256.88 L370.64 257.23 L377.63 257.58 L384.62 257.94 L391.61 258.29 L398.60 258.64 L405.59 259.00 L412.58 259.35 L419.58 259.70 L426.57 260.06 L433.56 260.41 L440.55 260.77 L447.54 261.12 L454.53 261.48 L461.53 261.83 L468.52 262.19 L475.51 262.54 L482.50 262.90" stroke="#0000ff" stroke-width="1.25" stroke-dasharray="2.9 1.1"/><path d="M70.00 238.50 L76.99 238.89 L83.98 239.28 L90.97 239.68 L97.97 240.07 L104.96 240.46 L111.95 240.85 L118.94 241.24 L125.93 241.63 L132.92 242.02 L139.92 242.40 L146.91 242.79 L153.90 243.18 L160.89 243.56 L167.88 243.95 L174.87 244.33 L181.86 244.72 L188.86 245.10 L195.85 245.48 L202.84 245.87 L209.83 246.25 L216.82 246.63 L223.81 247.01 L230.81 247.39 L237.80 247.77 L244.79 248.15 L251.78 248.53 L258.77 248.90 L265.76 249.28 L272.75 249.66 L279.75 250.03 L286.74 250.41 L293.73 250.78 L300.72 251.16 L307.71 251.53 L314.70 251.90 L321.69 252.28 L328.69 252.65 L335.68 253.02 L342.67 253.39 L349.66 253.76 L356.65 254.13 L363.64 254.50 L370.64 254.87 L377.63 255.24 L384.62 255.61 L391.61 255.98 L398.60 256.34 L405.59 256.71 L412.58 257.07 L419.58 257.44 L426.57 257.80 L433.56 258.17 L440.55 258.53 L447.54 258.89 L454.53 259.26 L461.53 259.62 L468.52 259.98 L475.51 260.34 L482.50 260.70" stroke="#ff0000" stroke-width="1.25" stroke-dasharray="2.9 1.1"/><path d="M70.00 237.45 L76.99 237.84 L83.98 238.22 L90.97 238.61 L97.97 238.99 L104.96 239.38 L111.95 239.76 L118.94 240.14 L125.93 240.52 L132.92 240.91 L139.92 241.29 L146.91 241.67 L153.90 242.05 L160.89 242.43 L167.88 242.81 L174.87 243.19 L181.86 243.57 L188.86 243.95 L195.85 244.33 L202.84 244.70 L209.83 245.08 L216.82 245.46 L223.81 245.83 L230.81 246.21 L237.80 246.58 L244.79 246.95 L251.78 247.33 L258.77 247.70 L265.76 248.07 L272.75 248.45 L279.75 248.82 L286.74 249.19 L293.73 249.56 L300.72 249.93 L307.71 250.30 L314.70 250.67 L321.69 251.04 L328.69 251.41 L335.68 251.78 L342.67 252.14 L349.66 252.51 L356.65 252.88 L363.64 253.24 L370.64 253.61 L377.63 253.97 L384.62 254.34 L391.61 254.70 L398.60 255.07 L405.59 255.43 L412.58 255.80 L419.58 256.16 L426.57 256.52 L433.56 256.88 L440.55 257.24 L447.54 257.60 L454.53 257.96 L461.53 258.32 L468.52 258.68 L475.51 259.04 L482.50 259.40" stroke="#006400" stroke-width="1.25" stroke-dasharray="2.9 1.1"/>
</g>
<g stroke="#000" stroke-width="1"><line x1="74.64" y1="309.20" x2="74.64" y2="307.00"/><line x1="83.10" y1="309.20" x2="83.10" y2="304.60"/><line x1="109.38" y1="309.20" x2="109.38" y2="307.00"/><line x1="144.12" y1="309.20" x2="144.12" y2="307.00"/><line x1="161.94" y1="309.20" x2="161.94" y2="307.00"/><line x1="170.40" y1="309.20" x2="170.40" y2="304.60"/><line x1="196.68" y1="309.20" x2="196.68" y2="307.00"/><line x1="231.42" y1="309.20" x2="231.42" y2="307.00"/><line x1="249.24" y1="309.20" x2="249.24" y2="307.00"/><line x1="257.70" y1="309.20" x2="257.70" y2="304.60"/><line x1="283.98" y1="309.20" x2="283.98" y2="307.00"/><line x1="318.72" y1="309.20" x2="318.72" y2="307.00"/><line x1="336.54" y1="309.20" x2="336.54" y2="307.00"/><line x1="345.00" y1="309.20" x2="345.00" y2="304.60"/><line x1="371.28" y1="309.20" x2="371.28" y2="307.00"/><line x1="406.02" y1="309.20" x2="406.02" y2="307.00"/><line x1="423.84" y1="309.20" x2="423.84" y2="307.00"/><line x1="432.30" y1="309.20" x2="432.30" y2="304.60"/><line x1="458.58" y1="309.20" x2="458.58" y2="307.00"/><line x1="70.00" y1="271.61" x2="72.20" y2="271.61"/><line x1="70.00" y1="245.06" x2="72.20" y2="245.06"/><line x1="70.00" y1="224.47" x2="72.20" y2="224.47"/><line x1="70.00" y1="207.64" x2="72.20" y2="207.64"/><line x1="70.00" y1="193.42" x2="72.20" y2="193.42"/><line x1="70.00" y1="181.09" x2="72.20" y2="181.09"/><line x1="70.00" y1="170.22" x2="72.20" y2="170.22"/><line x1="70.00" y1="160.50" x2="74.50" y2="160.50"/><line x1="70.00" y1="96.53" x2="72.20" y2="96.53"/><line x1="70.00" y1="59.11" x2="72.20" y2="59.11"/><line x1="70.00" y1="32.56" x2="72.20" y2="32.56"/></g>
<g stroke="#000" stroke-width="1" stroke-linecap="square"><line x1="70" y1="11.7" x2="70" y2="309.2"/><line x1="482.5" y1="11.7" x2="482.5" y2="309.2"/><line x1="70" y1="11.7" x2="482.5" y2="11.7"/><line x1="70" y1="309.2" x2="482.5" y2="309.2"/></g>
<g font-size="16.2px" fill="#000">
<text x="84.6" y="324.5" text-anchor="middle">1e-05</text>
<text x="171.8" y="324.5" text-anchor="middle">0.0001</text>
<text x="258.8" y="324.5" text-anchor="middle">0.001</text>
<text x="346" y="324.5" text-anchor="middle">0.01</text>
<text x="433.5" y="324.5" text-anchor="middle">0.1</text>
<text x="64.4" y="166.4" text-anchor="end">1e-09</text>
</g>
<g font-size="13.93px">
<text x="372.8" y="130.6" fill="#000" font-size="13.75px">Power law PPS</text>
<text x="289.8" y="150" fill="#0000ff">Wiggly Whipped first order - II</text>
<text x="294" y="169.5" fill="#ff0000">Wiggly Whipped first order - I</text>
<text x="294.7" y="189.3" fill="#006400">Wiggly Whipped second order</text>
</g>
<text x="242" y="340" font-size="17px"><tspan font-style="italic">k</tspan> in Mpc<tspan dy="-7" font-size="12px">-1</tspan></text>
<g fill="#000"><text transform="translate(17.5,184.2) rotate(-90)" font-size="18px" font-style="italic">P</text>
<text transform="translate(21.7,173.8) rotate(-90) scale(1,1.2)" font-size="13px">S/T</text>
<text transform="translate(15.8,154.5) rotate(-90)" font-size="17.5px">(<tspan font-style="italic">k</tspan>)</text></g>
</svg>
</body></html>
